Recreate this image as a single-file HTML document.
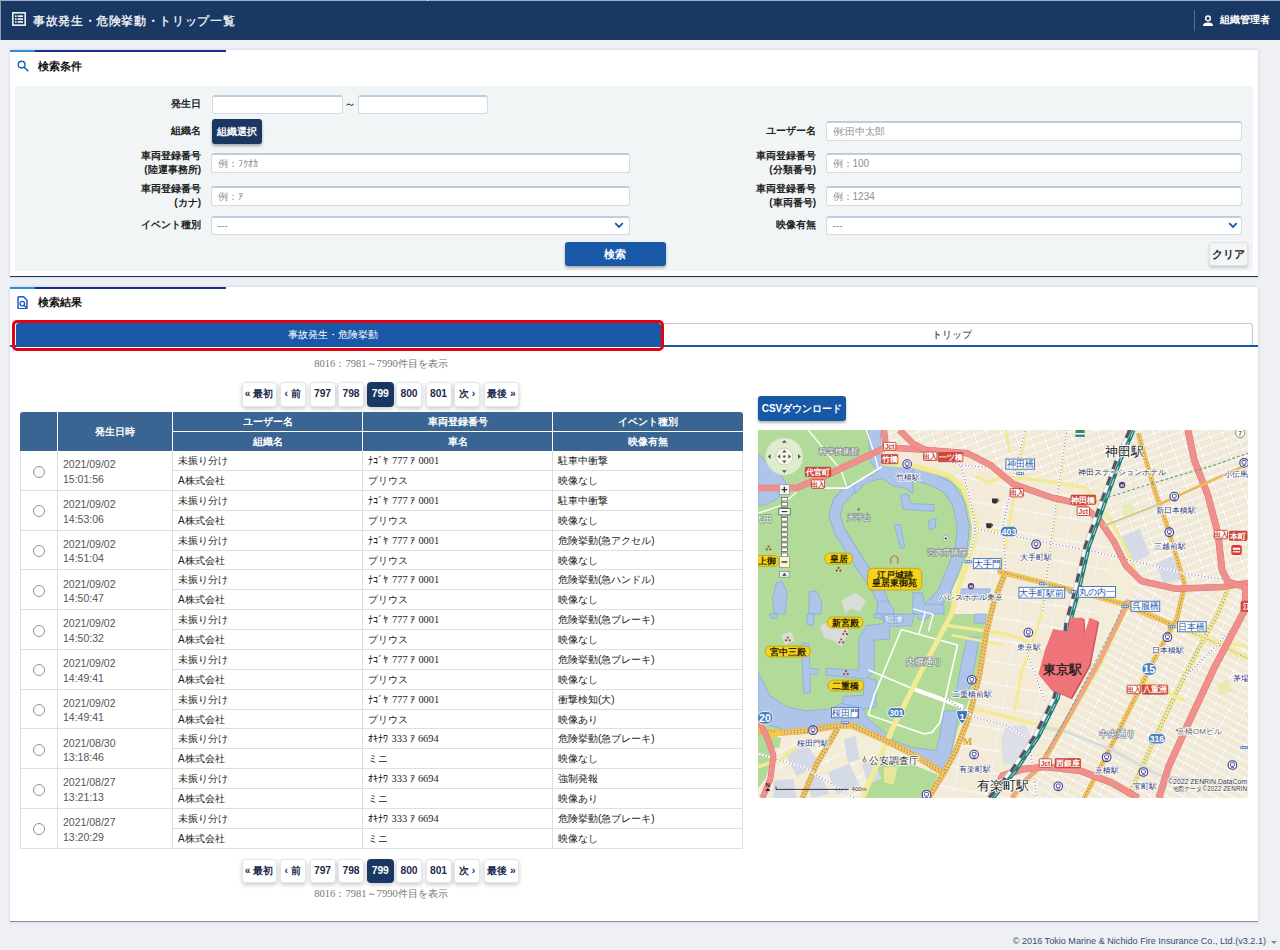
<!DOCTYPE html>
<html lang="ja"><head>
<meta charset="utf-8">
<title>事故発生・危険挙動・トリップ一覧</title>
<style>
*{box-sizing:border-box;margin:0;padding:0}
html,body{width:1280px;height:950px;overflow:hidden}
body{position:relative;background:#eef0f4;font-family:"Liberation Sans",sans-serif;font-size:10px;color:#222}
.abs{position:absolute}
.j{display:inline-block;text-align:justify;text-align-last:justify;text-justify:inter-character;white-space:nowrap;vertical-align:top}
.k{display:inline-block;overflow:hidden;white-space:nowrap;vertical-align:top;font-family:"Liberation Sans",sans-serif}
#hdr{left:0;top:0;width:1280px;height:40px;background:#1a3864;border-top:1px solid #9dabc8;border-left:1px solid #8e9ab3}
#hdr .ttl{left:32px;top:10.5px;color:#fff;font-size:12.2px;line-height:18px;white-space:nowrap;-webkit-text-stroke:.25px #fff}
#hdr .usr{left:1219px;top:9.5px;color:#fff;font-size:10px;font-weight:bold;line-height:18px;white-space:nowrap}
#hdr .sep{left:1193px;top:9px;width:1px;height:21px;background:#5d6894}
.panel{background:#fff;left:10px;width:1248px;box-shadow:0 0 3px rgba(120,140,170,.35)}
.panel .tb1{left:0;top:0;width:25px;height:2px;background:#2a8fd0}
.panel .tb2{left:25px;top:0;width:191px;height:2px;background:#17308a}
.ph{font-size:11.2px;font-weight:bold;color:#111;left:28px;white-space:nowrap;line-height:16px}
#p1{top:50px;height:227px;border-bottom:1px solid #1a3762}
#p2{top:287px;height:635px;border-bottom:1px solid #8392aa}
#form{left:5px;top:36px;width:1238px;height:185px;background:#f1f5f6}
.lbl{font-weight:bold;font-size:10px;line-height:14px;text-align:right;width:120px;color:#222;white-space:nowrap}
.inp{background:#fff;border:1px solid #d5dbe3;border-top:2px solid #bfcbe0;border-radius:3px;height:20px;font-size:10px;line-height:17.5px;color:#8f8f8f;padding-left:5.5px;white-space:nowrap;overflow:hidden}
.btn{border-radius:3px;color:#fff;font-weight:bold;font-size:10px;text-align:center;white-space:nowrap;box-shadow:0 2px 3px rgba(0,0,0,.3)}
.tabblue{left:15.5px;top:323px;width:645px;height:24px;background:#1858a6;border-radius:3px 3px 0 0;color:#fff;font-size:10px;line-height:23px;text-align:center;padding-right:11px}
.tab2{left:663px;top:323px;width:590px;height:22px;border:1px solid #c4caca;border-bottom:none;border-radius:3px 3px 0 0;font-size:10px;line-height:22px;text-align:center;color:#222;background:#fff;padding-right:12px}
.tabline{left:10px;top:345px;width:1248px;height:2px;background:#1858a6}
.redbox{left:12px;top:320px;width:651.5px;height:31px;border:3px solid #e60012;border-radius:5px}
.cnt{left:241px;width:280px;text-align:center;font-family:"Liberation Serif",serif;font-size:10.6px;color:#777;line-height:14px;white-space:nowrap}
.cnt b{font-weight:normal;font-family:"Liberation Sans",sans-serif;font-size:10.2px}
.pg{height:24.5px;line-height:22.5px;background:#fff;border:1px solid #e3e6e8;border-radius:3.5px;box-shadow:0 2px 4px rgba(0,0,0,.2);font-size:10.3px;font-weight:bold;color:#1e2c4e;text-align:center;white-space:nowrap}
.pg.on{background:#1a3762;border-color:#1a3762;color:#fff}
#tbl{left:20px;top:412px;width:723px;height:437px}
.th{background:#3a6592;color:#fff;font-weight:bold;font-size:10px;text-align:center;line-height:19px;white-space:nowrap}
.td{font-size:10px;line-height:19px;color:#222;white-space:nowrap;padding-left:5px;border-right:1px solid #d9e0e0;border-bottom:1px solid #d9e0e0;background:#fff;overflow:hidden}
.vn{font-family:"Liberation Serif",serif;font-size:10.4px}
.dt{color:#555;font-size:10.5px;line-height:14.4px;padding-top:6.4px}
.rad{width:12px;height:12px;border:1px solid #8c9499;border-radius:50%;background:#fff;left:12px;top:14.6px}
</style>
</head>
<body>
<div id="hdr" class="abs">
  <svg class="abs" style="left:11px;top:11px" width="14" height="14" viewBox="0 0 15 15"><rect x="0.9" y="0.9" width="13.2" height="13.2" fill="none" stroke="#fff" stroke-width="1.6"/><g fill="#fff"><rect x="3.2" y="3.6" width="1.7" height="1.7"/><rect x="6" y="3.6" width="5.8" height="1.7"/><rect x="3.2" y="6.7" width="1.7" height="1.7"/><rect x="6" y="6.7" width="5.8" height="1.7"/><rect x="3.2" y="9.8" width="1.7" height="1.7"/><rect x="6" y="9.8" width="5.8" height="1.7"/></g></svg>
  <div class="abs ttl"><span class="j" style="width: 201.5px;">事故発生・危険挙動・トリップ一覧</span></div>
  <div class="abs sep"></div><div class="abs" style="left:426px;top:-1px;width:1.4px;height:1px;background:#fff"></div>
  <svg class="abs" style="left:1201px;top:14px" width="12" height="12" viewBox="0 0 12 12"><circle cx="6" cy="3.4" r="2.3" fill="none" stroke="#fff" stroke-width="1.5"/><path d="M0.8 11 C1.2 8.2 3.5 7.6 6 7.6 C8.5 7.6 10.8 8.2 11.2 11 Z" fill="#fff"/></svg>
  <div class="abs usr"><span class="j" style="width: 50px;">組織管理者</span></div>
</div>

<div id="p1" class="abs panel">
  <div class="abs tb1"></div><div class="abs tb2"></div>
  <svg class="abs" style="left:7px;top:10px" width="12" height="12" viewBox="0 0 12 12"><circle cx="4.6" cy="4.6" r="3.4" fill="none" stroke="#1a5fb0" stroke-width="1.4"/><path d="M7.2 7.2 L10.8 10.8" stroke="#1a5fb0" stroke-width="1.6" stroke-linecap="round"/></svg>
  <div class="abs ph" style="top:8px"><span class="j" style="width: 44px;">検索条件</span></div>
  <div id="form" class="abs"></div>
</div>

<div id="fl" class="abs" style="left:0;top:0">
  <div class="abs lbl" style="left:81px;top:97px"><span class="j" style="width: 30px;">発生日</span></div>
  <div class="abs inp" style="left:211.5px;top:94.5px;width:131.5px;height:19px"></div>
  <div class="abs" style="left:344px;top:97px;font-size:12px;line-height:14px;color:#222">～</div>
  <div class="abs inp" style="left:357.5px;top:94.5px;width:130.5px;height:19px"></div>
  <div class="abs lbl" style="left:81px;top:124px"><span class="j" style="width: 30px;">組織名</span></div>
  <div class="abs btn" style="left:212px;top:119px;width:50px;height:25px;line-height:25px;background:#1a3762"><span class="j" style="width: 40px;">組織選択</span></div>
  <div class="abs lbl" style="left:81px;top:149px"><span class="j" style="width: 60px;">車両登録番号</span><br><span class="j" style="width: 56.7px;">(陸運事務所)</span></div>
  <div class="abs inp" style="left:211px;top:152.5px;width:419px"><span class="j" style="width: 20px;">例：</span><span class="k" style="width:21px">ﾌｸｵｶ</span></div>
  <div class="abs lbl" style="left:81px;top:182px"><span class="j" style="width: 60px;">車両登録番号</span><br><span class="j" style="width: 26.7px;">(カナ)</span></div>
  <div class="abs inp" style="left:211px;top:185.5px;width:419px"><span class="j" style="width: 20px;">例：</span><span class="k" style="width:5px">ｱ</span></div>
  <div class="abs lbl" style="left:81px;top:218px"><span class="j" style="width: 60px;">イベント種別</span></div>
  <div class="abs inp sel" style="left:211px;top:215.5px;width:419px;height:19px;line-height:16px">---</div>
  <svg class="abs" style="left:614px;top:222px" width="10" height="7" viewBox="0 0 10 7"><path d="M1.2 1.2 L5 5 L8.8 1.2" fill="none" stroke="#1858a6" stroke-width="1.8"/></svg>
  <div class="abs lbl" style="left:696px;top:124px"><span class="j" style="width: 50px;">ユーザー名</span></div>
  <div class="abs inp" style="left:826px;top:121.4px;width:416px"><span class="j" style="width: 52.8px;">例:田中太郎</span></div>
  <div class="abs lbl" style="left:696px;top:149px"><span class="j" style="width: 60px;">車両登録番号</span><br><span class="j" style="width: 46.7px;">(分類番号)</span></div>
  <div class="abs inp" style="left:826px;top:152.5px;width:416px"><span class="j" style="width: 36.7px;">例：100</span></div>
  <div class="abs lbl" style="left:696px;top:182px"><span class="j" style="width: 60px;">車両登録番号</span><br><span class="j" style="width: 46.7px;">(車両番号)</span></div>
  <div class="abs inp" style="left:826px;top:185.5px;width:416px"><span class="j" style="width: 42.3px;">例：1234</span></div>
  <div class="abs lbl" style="left:696px;top:218px"><span class="j" style="width: 40px;">映像有無</span></div>
  <div class="abs inp sel" style="left:826px;top:215.5px;width:416px;height:19px;line-height:16px">---</div>
  <svg class="abs" style="left:1228px;top:222px" width="10" height="7" viewBox="0 0 10 7"><path d="M1.2 1.2 L5 5 L8.8 1.2" fill="none" stroke="#1858a6" stroke-width="1.8"/></svg>
  <div class="abs btn" style="left:564.5px;top:241.6px;width:101px;height:24.4px;line-height:24px;background:#1858a6;font-size:10.5px"><span class="j" style="width: 22px;">検索</span></div>
  <div class="abs btn" style="left:1209px;top:242px;width:39px;height:24px;line-height:22px;background:#f3f5f6;color:#222;border:1px solid #dfe2e5;font-size:10.5px;box-shadow:0 2px 3px rgba(0,0,0,.16)"><span class="j" style="width: 33px;">クリア</span></div>
</div>

<div id="p2" class="abs panel">
  <div class="abs tb1"></div><div class="abs tb2"></div>
  <div class="abs ph" style="top:7px"><span class="j" style="width: 44px;">検索結果</span></div>
</div>

<div id="rl" class="abs" style="left:0;top:0">
  <svg class="abs" style="left:17.4px;top:295.6px" width="11" height="13.6" viewBox="0 0 11 13.6"><path d="M1 1.7 Q1 .8 1.9 .8 H6.6 L10 4.2 V11.9 Q10 12.8 9.1 12.8 H1.9 Q1 12.8 1 11.9 Z" fill="#fff" stroke="#1c5cc0" stroke-width="1.5" stroke-linejoin="round"/><circle cx="5.3" cy="7.6" r="2.3" fill="none" stroke="#1c5cc0" stroke-width="1.3"/><path d="M7 9.3 L9.4 11.8" stroke="#1c5cc0" stroke-width="1.4"/></svg>
  <div class="abs tabline"></div>
  <div class="abs tabblue"><span class="j" style="width: 90px;">事故発生・危険挙動</span></div>
  <div class="abs tab2"><span class="j" style="width: 40px;">トリップ</span></div>
  <div class="abs redbox"></div>
  <div class="abs cnt" style="top:357px">8016<b>：</b>7981<b>～</b>7990<b><span class="j" style="width: 50px;">件目を表示</span></b></div>
  <div class="abs cnt" style="top:887px">8016<b>：</b>7981<b>～</b>7990<b><span class="j" style="width: 50px;">件目を表示</span></b></div>
  <div class="abs pg" style="left:241.5px;top:382px;width:35px"><span class="j" style="width: 28.6px;">« 最初</span></div>
  <div class="abs pg" style="left:279.5px;top:382px;width:26.5px"><span class="j" style="width: 16.3px;">‹ 前</span></div>
  <div class="abs pg" style="left:309.5px;top:382px;width:26px">797</div>
  <div class="abs pg" style="left:338px;top:382px;width:26px">798</div>
  <div class="abs pg on" style="left:366.5px;top:382px;width:27.5px">799</div>
  <div class="abs pg" style="left:396px;top:382px;width:26px">800</div>
  <div class="abs pg" style="left:425.5px;top:382px;width:26px">801</div>
  <div class="abs pg" style="left:454px;top:382px;width:26px"><span class="j" style="width: 16.3px;">次 ›</span></div>
  <div class="abs pg" style="left:484px;top:382px;width:35px"><span class="j" style="width: 28.6px;">最後 »</span></div>
  <div class="abs pg" style="left:241.5px;top:858.5px;width:35px"><span class="j" style="width: 28.6px;">« 最初</span></div>
  <div class="abs pg" style="left:279.5px;top:858.5px;width:26.5px"><span class="j" style="width: 16.3px;">‹ 前</span></div>
  <div class="abs pg" style="left:309.5px;top:858.5px;width:26px">797</div>
  <div class="abs pg" style="left:338px;top:858.5px;width:26px">798</div>
  <div class="abs pg on" style="left:366.5px;top:858.5px;width:27.5px">799</div>
  <div class="abs pg" style="left:396px;top:858.5px;width:26px">800</div>
  <div class="abs pg" style="left:425.5px;top:858.5px;width:26px">801</div>
  <div class="abs pg" style="left:454px;top:858.5px;width:26px"><span class="j" style="width: 16.3px;">次 ›</span></div>
  <div class="abs pg" style="left:484px;top:858.5px;width:35px"><span class="j" style="width: 28.6px;">最後 »</span></div>
  <div id="tbl" class="abs">
    <div class="abs th" style="left:0;top:0;width:37px;height:39px;border-radius:3px 0 0 0"></div>
    <div class="abs th" style="left:38px;top:0;width:114px;height:39px;line-height:39px"><span class="j" style="width: 40px;">発生日時</span></div>
    <div class="abs th" style="left:153px;top:0;width:189px;height:19px"><span class="j" style="width: 50px;">ユーザー名</span></div>
    <div class="abs th" style="left:153px;top:20px;width:189px;height:19px"><span class="j" style="width: 30px;">組織名</span></div>
    <div class="abs th" style="left:343px;top:0;width:189px;height:19px"><span class="j" style="width: 60px;">車両登録番号</span></div>
    <div class="abs th" style="left:343px;top:20px;width:189px;height:19px"><span class="j" style="width: 20px;">車名</span></div>
    <div class="abs th" style="left:533px;top:0;width:190px;height:19px;border-radius:0 3px 0 0"><span class="j" style="width: 60px;">イベント種別</span></div>
    <div class="abs th" style="left:533px;top:20px;width:190px;height:19px"><span class="j" style="width: 40px;">映像有無</span></div>
    <div class="abs" style="left:0;top:39.0px;width:723px;height:39.75px">
      <div class="abs td" style="left:0;top:0;width:38px;height:39.75px;border-left:1px solid #d9e0e0"><div class="abs rad"></div></div>
      <div class="abs td dt" style="left:38px;top:0;width:115px;height:39.75px">2021/09/02<br>15:01:56</div>
      <div class="abs td" style="left:153px;top:0;width:190px;height:20px"><span class="j" style="width: 50px;">未振り分け</span></div>
      <div class="abs td" style="left:153px;top:20px;width:190px;height:19.75px"><span class="j" style="width: 46.7px;">A株式会社</span></div>
      <div class="abs td vn" style="left:343px;top:0;width:190px;height:20px"><span class="k" style="width:21.5px">ﾅｺﾞﾔ</span> 777 <span class="k" style="width:5.5px">ｱ</span> 0001</div>
      <div class="abs td" style="left:343px;top:20px;width:190px;height:19.75px"><span class="j" style="width: 40px;">プリウス</span></div>
      <div class="abs td" style="left:533px;top:0;width:190px;height:20px"><span class="j" style="width: 50px;">駐車中衝撃</span></div>
      <div class="abs td" style="left:533px;top:20px;width:190px;height:19.75px"><span class="j" style="width: 40px;">映像なし</span></div>
    </div>
    <div class="abs" style="left:0;top:78.75px;width:723px;height:39.75px">
      <div class="abs td" style="left:0;top:0;width:38px;height:39.75px;border-left:1px solid #d9e0e0"><div class="abs rad"></div></div>
      <div class="abs td dt" style="left:38px;top:0;width:115px;height:39.75px">2021/09/02<br>14:53:06</div>
      <div class="abs td" style="left:153px;top:0;width:190px;height:20px"><span class="j" style="width: 50px;">未振り分け</span></div>
      <div class="abs td" style="left:153px;top:20px;width:190px;height:19.75px"><span class="j" style="width: 46.7px;">A株式会社</span></div>
      <div class="abs td vn" style="left:343px;top:0;width:190px;height:20px"><span class="k" style="width:21.5px">ﾅｺﾞﾔ</span> 777 <span class="k" style="width:5.5px">ｱ</span> 0001</div>
      <div class="abs td" style="left:343px;top:20px;width:190px;height:19.75px"><span class="j" style="width: 40px;">プリウス</span></div>
      <div class="abs td" style="left:533px;top:0;width:190px;height:20px"><span class="j" style="width: 50px;">駐車中衝撃</span></div>
      <div class="abs td" style="left:533px;top:20px;width:190px;height:19.75px"><span class="j" style="width: 40px;">映像なし</span></div>
    </div>
    <div class="abs" style="left:0;top:118.5px;width:723px;height:39.75px">
      <div class="abs td" style="left:0;top:0;width:38px;height:39.75px;border-left:1px solid #d9e0e0"><div class="abs rad"></div></div>
      <div class="abs td dt" style="left:38px;top:0;width:115px;height:39.75px">2021/09/02<br>14:51:04</div>
      <div class="abs td" style="left:153px;top:0;width:190px;height:20px"><span class="j" style="width: 50px;">未振り分け</span></div>
      <div class="abs td" style="left:153px;top:20px;width:190px;height:19.75px"><span class="j" style="width: 46.7px;">A株式会社</span></div>
      <div class="abs td vn" style="left:343px;top:0;width:190px;height:20px"><span class="k" style="width:21.5px">ﾅｺﾞﾔ</span> 777 <span class="k" style="width:5.5px">ｱ</span> 0001</div>
      <div class="abs td" style="left:343px;top:20px;width:190px;height:19.75px"><span class="j" style="width: 40px;">プリウス</span></div>
      <div class="abs td" style="left:533px;top:0;width:190px;height:20px"><span class="j" style="width: 96.7px;">危険挙動(急アクセル)</span></div>
      <div class="abs td" style="left:533px;top:20px;width:190px;height:19.75px"><span class="j" style="width: 40px;">映像なし</span></div>
    </div>
    <div class="abs" style="left:0;top:158.25px;width:723px;height:39.75px">
      <div class="abs td" style="left:0;top:0;width:38px;height:39.75px;border-left:1px solid #d9e0e0"><div class="abs rad"></div></div>
      <div class="abs td dt" style="left:38px;top:0;width:115px;height:39.75px">2021/09/02<br>14:50:47</div>
      <div class="abs td" style="left:153px;top:0;width:190px;height:20px"><span class="j" style="width: 50px;">未振り分け</span></div>
      <div class="abs td" style="left:153px;top:20px;width:190px;height:19.75px"><span class="j" style="width: 46.7px;">A株式会社</span></div>
      <div class="abs td vn" style="left:343px;top:0;width:190px;height:20px"><span class="k" style="width:21.5px">ﾅｺﾞﾔ</span> 777 <span class="k" style="width:5.5px">ｱ</span> 0001</div>
      <div class="abs td" style="left:343px;top:20px;width:190px;height:19.75px"><span class="j" style="width: 40px;">プリウス</span></div>
      <div class="abs td" style="left:533px;top:0;width:190px;height:20px"><span class="j" style="width: 96.7px;">危険挙動(急ハンドル)</span></div>
      <div class="abs td" style="left:533px;top:20px;width:190px;height:19.75px"><span class="j" style="width: 40px;">映像なし</span></div>
    </div>
    <div class="abs" style="left:0;top:198.0px;width:723px;height:39.75px">
      <div class="abs td" style="left:0;top:0;width:38px;height:39.75px;border-left:1px solid #d9e0e0"><div class="abs rad"></div></div>
      <div class="abs td dt" style="left:38px;top:0;width:115px;height:39.75px">2021/09/02<br>14:50:32</div>
      <div class="abs td" style="left:153px;top:0;width:190px;height:20px"><span class="j" style="width: 50px;">未振り分け</span></div>
      <div class="abs td" style="left:153px;top:20px;width:190px;height:19.75px"><span class="j" style="width: 46.7px;">A株式会社</span></div>
      <div class="abs td vn" style="left:343px;top:0;width:190px;height:20px"><span class="k" style="width:21.5px">ﾅｺﾞﾔ</span> 777 <span class="k" style="width:5.5px">ｱ</span> 0001</div>
      <div class="abs td" style="left:343px;top:20px;width:190px;height:19.75px"><span class="j" style="width: 40px;">プリウス</span></div>
      <div class="abs td" style="left:533px;top:0;width:190px;height:20px"><span class="j" style="width: 96.7px;">危険挙動(急ブレーキ)</span></div>
      <div class="abs td" style="left:533px;top:20px;width:190px;height:19.75px"><span class="j" style="width: 40px;">映像なし</span></div>
    </div>
    <div class="abs" style="left:0;top:237.75px;width:723px;height:39.75px">
      <div class="abs td" style="left:0;top:0;width:38px;height:39.75px;border-left:1px solid #d9e0e0"><div class="abs rad"></div></div>
      <div class="abs td dt" style="left:38px;top:0;width:115px;height:39.75px">2021/09/02<br>14:49:41</div>
      <div class="abs td" style="left:153px;top:0;width:190px;height:20px"><span class="j" style="width: 50px;">未振り分け</span></div>
      <div class="abs td" style="left:153px;top:20px;width:190px;height:19.75px"><span class="j" style="width: 46.7px;">A株式会社</span></div>
      <div class="abs td vn" style="left:343px;top:0;width:190px;height:20px"><span class="k" style="width:21.5px">ﾅｺﾞﾔ</span> 777 <span class="k" style="width:5.5px">ｱ</span> 0001</div>
      <div class="abs td" style="left:343px;top:20px;width:190px;height:19.75px"><span class="j" style="width: 40px;">プリウス</span></div>
      <div class="abs td" style="left:533px;top:0;width:190px;height:20px"><span class="j" style="width: 96.7px;">危険挙動(急ブレーキ)</span></div>
      <div class="abs td" style="left:533px;top:20px;width:190px;height:19.75px"><span class="j" style="width: 40px;">映像なし</span></div>
    </div>
    <div class="abs" style="left:0;top:277.5px;width:723px;height:39.75px">
      <div class="abs td" style="left:0;top:0;width:38px;height:39.75px;border-left:1px solid #d9e0e0"><div class="abs rad"></div></div>
      <div class="abs td dt" style="left:38px;top:0;width:115px;height:39.75px">2021/09/02<br>14:49:41</div>
      <div class="abs td" style="left:153px;top:0;width:190px;height:20px"><span class="j" style="width: 50px;">未振り分け</span></div>
      <div class="abs td" style="left:153px;top:20px;width:190px;height:19.75px"><span class="j" style="width: 46.7px;">A株式会社</span></div>
      <div class="abs td vn" style="left:343px;top:0;width:190px;height:20px"><span class="k" style="width:21.5px">ﾅｺﾞﾔ</span> 777 <span class="k" style="width:5.5px">ｱ</span> 0001</div>
      <div class="abs td" style="left:343px;top:20px;width:190px;height:19.75px"><span class="j" style="width: 40px;">プリウス</span></div>
      <div class="abs td" style="left:533px;top:0;width:190px;height:20px"><span class="j" style="width: 56.7px;">衝撃検知(大)</span></div>
      <div class="abs td" style="left:533px;top:20px;width:190px;height:19.75px"><span class="j" style="width: 40px;">映像あり</span></div>
    </div>
    <div class="abs" style="left:0;top:317.25px;width:723px;height:39.75px">
      <div class="abs td" style="left:0;top:0;width:38px;height:39.75px;border-left:1px solid #d9e0e0"><div class="abs rad"></div></div>
      <div class="abs td dt" style="left:38px;top:0;width:115px;height:39.75px">2021/08/30<br>13:18:46</div>
      <div class="abs td" style="left:153px;top:0;width:190px;height:20px"><span class="j" style="width: 50px;">未振り分け</span></div>
      <div class="abs td" style="left:153px;top:20px;width:190px;height:19.75px"><span class="j" style="width: 46.7px;">A株式会社</span></div>
      <div class="abs td vn" style="left:343px;top:0;width:190px;height:20px"><span class="k" style="width:21px">ｵｷﾅﾜ</span> 333 <span class="k" style="width:5.5px">ｱ</span> 6694</div>
      <div class="abs td" style="left:343px;top:20px;width:190px;height:19.75px"><span class="j" style="width: 20px;">ミニ</span></div>
      <div class="abs td" style="left:533px;top:0;width:190px;height:20px"><span class="j" style="width: 96.7px;">危険挙動(急ブレーキ)</span></div>
      <div class="abs td" style="left:533px;top:20px;width:190px;height:19.75px"><span class="j" style="width: 40px;">映像なし</span></div>
    </div>
    <div class="abs" style="left:0;top:357.0px;width:723px;height:39.75px">
      <div class="abs td" style="left:0;top:0;width:38px;height:39.75px;border-left:1px solid #d9e0e0"><div class="abs rad"></div></div>
      <div class="abs td dt" style="left:38px;top:0;width:115px;height:39.75px">2021/08/27<br>13:21:13</div>
      <div class="abs td" style="left:153px;top:0;width:190px;height:20px"><span class="j" style="width: 50px;">未振り分け</span></div>
      <div class="abs td" style="left:153px;top:20px;width:190px;height:19.75px"><span class="j" style="width: 46.7px;">A株式会社</span></div>
      <div class="abs td vn" style="left:343px;top:0;width:190px;height:20px"><span class="k" style="width:21px">ｵｷﾅﾜ</span> 333 <span class="k" style="width:5.5px">ｱ</span> 6694</div>
      <div class="abs td" style="left:343px;top:20px;width:190px;height:19.75px"><span class="j" style="width: 20px;">ミニ</span></div>
      <div class="abs td" style="left:533px;top:0;width:190px;height:20px"><span class="j" style="width: 40px;">強制発報</span></div>
      <div class="abs td" style="left:533px;top:20px;width:190px;height:19.75px"><span class="j" style="width: 40px;">映像あり</span></div>
    </div>
    <div class="abs" style="left:0;top:396.75px;width:723px;height:39.75px">
      <div class="abs td" style="left:0;top:0;width:38px;height:39.75px;border-left:1px solid #d9e0e0"><div class="abs rad"></div></div>
      <div class="abs td dt" style="left:38px;top:0;width:115px;height:39.75px">2021/08/27<br>13:20:29</div>
      <div class="abs td" style="left:153px;top:0;width:190px;height:20px"><span class="j" style="width: 50px;">未振り分け</span></div>
      <div class="abs td" style="left:153px;top:20px;width:190px;height:19.75px"><span class="j" style="width: 46.7px;">A株式会社</span></div>
      <div class="abs td vn" style="left:343px;top:0;width:190px;height:20px"><span class="k" style="width:21px">ｵｷﾅﾜ</span> 333 <span class="k" style="width:5.5px">ｱ</span> 6694</div>
      <div class="abs td" style="left:343px;top:20px;width:190px;height:19.75px"><span class="j" style="width: 20px;">ミニ</span></div>
      <div class="abs td" style="left:533px;top:0;width:190px;height:20px"><span class="j" style="width: 96.7px;">危険挙動(急ブレーキ)</span></div>
      <div class="abs td" style="left:533px;top:20px;width:190px;height:19.75px"><span class="j" style="width: 40px;">映像なし</span></div>
    </div>
  </div>
  <div class="abs btn" style="left:758px;top:396px;width:88px;height:25px;line-height:25px;background:#1858a6;font-size:10px"><span class="j" style="width: 80.6px;">CSVダウンロード</span></div>
  <div id="map" class="abs" style="left:758px;top:430px;width:490px;height:368px;background:#f4eedd;overflow:hidden"><svg width="490" height="368" viewBox="0 0 490 368" style="display:block;font-family:'Liberation Sans',sans-serif">
<defs>
<pattern id="g1" width="13" height="7.5" patternUnits="userSpaceOnUse" patternTransform="rotate(-20)"><rect width="13" height="7.5" fill="#f2ead6"/><path d="M0 3.75H13.0M6.5 0V7.5" stroke="#d8d1ba" stroke-width="2.05"/><path d="M0 3.75H13.0M6.5 0V7.5" stroke="#fff" stroke-width="1.25"/></pattern>
<pattern id="g2" width="15" height="7.5" patternUnits="userSpaceOnUse" patternTransform="rotate(28)"><rect width="15" height="7.5" fill="#f2ead6"/><path d="M0 3.75H15.0M7.5 0V7.5" stroke="#d8d1ba" stroke-width="2.05"/><path d="M0 3.75H15.0M7.5 0V7.5" stroke="#fff" stroke-width="1.25"/></pattern>
<pattern id="g3" width="34" height="22" patternUnits="userSpaceOnUse" patternTransform="rotate(10)"><rect width="34" height="22" fill="#f3ebd7"/><path d="M0 11.0H34.0M17.0 0V22.0" stroke="#d8d1ba" stroke-width="2.1"/><path d="M0 11.0H34.0M17.0 0V22.0" stroke="#fff" stroke-width="1.3"/></pattern>
<pattern id="g4" width="22" height="14" patternUnits="userSpaceOnUse" patternTransform="rotate(-25)"><rect width="22" height="14" fill="#f4ecd7"/><path d="M0 7.0H22.0M11.0 0V14.0" stroke="#d8d1ba" stroke-width="2.1"/><path d="M0 7.0H22.0M11.0 0V14.0" stroke="#fff" stroke-width="1.3"/></pattern>
</defs>
<rect width="490" height="368" fill="#f4edd9"/>
<path d="M128 0 L380 0 L300 368 L170 368 L230 180 L215 90 L195 45 L128 30Z" fill="url(#g3)"/>
<path d="M372 0 L490 0 L490 160 L420 168 L375 150 L345 95 L355 40Z" fill="url(#g1)"/>
<path d="M128 0 L372 0 L355 40 L335 60 L250 45 L205 22 L160 18 L128 18Z" fill="url(#g1)"/>
<path d="M375 150 L420 168 L490 160 L490 368 L254 368 L282 337 L311 287 L342 230 L371 170Z" fill="url(#g2)"/>
<path d="M0 300 L190 340 L170 368 L0 368Z" fill="url(#g4)"/>
<path d="M0.0 0.0 L122.0 0.0 L124.0 32.9 L135.6 37.8 L154.9 35.8 L174.3 40.7 L190.8 46.5 L203.4 58.1 L210.1 77.5 L214.0 96.8 L213.1 108.5 L210.1 124.0 L205.3 133.6 L201.4 145.3 L193.7 160.8 L193.7 184.0 L195.6 184.0 L226.6 184.0 L226.6 195.6 L220.8 232.4 L213.1 265.3 L205.3 284.7 L199.5 300.2 L191.7 331.2 L185.9 338.9 L154.9 323.5 L124.0 308.0 L93.0 294.4 L73.6 296.3 L48.4 300.2 L19.4 302.1 L0.0 300.2 Z" fill="#b2da99"/>
<path d="M120.1 333.1 L135.6 327.3 L160.8 337.0 L180.1 344.8 L174.3 358.3 L168.5 368.0 L104.6 368.0 L112.3 348.6 Z" fill="#b2da99"/>
<path d="M125.9 337.0 L139.5 337.0 L135.6 354.4 L125.9 352.5 Z" fill="#e9e69a"/>
<path d="M0.0 300.2 L11.6 308.0 L15.5 323.5 L7.7 348.6 L0.0 358.3 Z" fill="#b2da99"/>
<path d="M0.0 302.1 L23.2 308.0 L21.3 317.6 L0.0 319.6 Z" fill="#b2da99"/>
<path d="M0.0 23.2 L7.7 32.0 L21.3 43.6 L28.1 52.3 L26.1 62.0 L18.4 69.7 L7.7 74.6 L0.0 75.5 Z" fill="#aec4e9" stroke="#7ba4dd" stroke-width=".6" stroke-linejoin="round"/>
<path d="M116.2 0.0 L118.1 29.1 L127.8 41.6 L153.0 43.0 L174.3 49.4 L190.8 58.1 L200.5 73.6 L205.3 96.8 L203.4 116.2 L197.6 133.6 L191.7 147.2 L185.9 162.7 L175.3 174.3 L164.6 184.0" fill="none" stroke="#7ba4dd" stroke-width="12.6" stroke-linejoin="round" stroke-linecap="round"/><path d="M116.2 0.0 L118.1 29.1 L127.8 41.6 L153.0 43.0 L174.3 49.4 L190.8 58.1 L200.5 73.6 L205.3 96.8 L203.4 116.2 L197.6 133.6 L191.7 147.2 L185.9 162.7 L175.3 174.3 L164.6 184.0" fill="none" stroke="#aec4e9" stroke-width="11.5" stroke-linejoin="round" stroke-linecap="round"/>
<path d="M93.0 58.1 L104.6 48.4 L116.2 44.5 L125.9 34.9 L154.9 36.8 L154.9 63.9 L147.2 58.1 L135.6 56.2 L124.0 48.4 L108.5 52.3 L96.8 63.9 Z" fill="#aec4e9" stroke="#7ba4dd" stroke-width=".6" stroke-linejoin="round"/>
<path d="M91.0 60.0 L80.4 71.7 L76.5 85.2 L81.3 100.7 L91.0 116.2 L100.7 131.7 L111.4 147.2 L120.1 160.8 L125.9 174.3 L124.0 184.0" fill="none" stroke="#7ba4dd" stroke-width="11.6" stroke-linejoin="round" stroke-linecap="round"/><path d="M91.0 60.0 L80.4 71.7 L76.5 85.2 L81.3 100.7 L91.0 116.2 L100.7 131.7 L111.4 147.2 L120.1 160.8 L125.9 174.3 L124.0 184.0" fill="none" stroke="#aec4e9" stroke-width="10.5" stroke-linejoin="round" stroke-linecap="round"/>
<path d="M142.4 64.9 L150.1 63.9 L153.0 73.6 L176.3 74.6 L175.3 81.3 L145.3 79.4 Z" fill="#aec4e9" stroke="#7ba4dd" stroke-width=".6" stroke-linejoin="round"/>
<path d="M136.5 94.9 L142.4 94.5 L146.8 117.2 L142.4 118.5 Z" fill="#aec4e9" stroke="#7ba4dd" stroke-width=".6" stroke-linejoin="round"/>
<path d="M170.4 91.0 L178.2 88.1 L177.2 97.8 L171.4 99.7 Z" fill="#aec4e9" stroke="#7ba4dd" stroke-width=".6" stroke-linejoin="round"/>
<path d="M18.4 153.0 L24.2 151.1 L29.1 162.7 L27.1 184.0 L16.5 184.0 L14.5 168.5 Z" fill="#aec4e9" stroke="#7ba4dd" stroke-width=".6" stroke-linejoin="round"/>
<path d="M51.3 161.7 L58.1 160.8 L63.9 172.4 L62.9 184.0 L50.7 184.0 Z" fill="#aec4e9" stroke="#7ba4dd" stroke-width=".6" stroke-linejoin="round"/>
<path d="M120.1 172.4 L127.8 170.4 L135.6 178.2 L135.6 184.0 L118.1 184.0 Z" fill="#aec4e9" stroke="#7ba4dd" stroke-width=".6" stroke-linejoin="round"/>
<path d="M154.9 162.7 L164.6 162.7 L166.6 174.3 L185.9 174.3 L185.9 184.0 L154.9 184.0 Z" fill="#aec4e9" stroke="#7ba4dd" stroke-width=".6" stroke-linejoin="round"/>
<path d="M201.4 158.8 L232.4 158.8 L230.5 169.5 L199.5 168.5 Z" fill="#aec4e9" stroke="#7ba4dd" stroke-width=".6" stroke-linejoin="round"/>
<path d="M11.6 184.0 L19.4 184.0 L18.4 188.3 L12.6 187.9 Z" fill="#aec4e9" stroke="#7ba4dd" stroke-width=".6" stroke-linejoin="round"/>
<path d="M48.4 184.0 L56.2 184.0 L55.2 195.6 L49.4 194.7 Z" fill="#aec4e9" stroke="#7ba4dd" stroke-width=".6" stroke-linejoin="round"/>
<path d="M116.2 184.0 L124.0 184.0 L124.0 187.9 L116.2 187.9 Z" fill="#aec4e9" stroke="#7ba4dd" stroke-width=".6" stroke-linejoin="round"/>
<path d="M43.6 213.1 L50.7 213.1 L51.9 238.2 L60.4 239.2 L60.0 244.4 L52.3 244.4 L52.3 262.4 L45.5 263.4 Z" fill="#aec4e9" stroke="#7ba4dd" stroke-width=".6" stroke-linejoin="round"/>
<path d="M125.9 184.0 L155.9 184.0 L154.0 195.6 L131.7 196.6 L131.7 209.2 L116.2 210.1 L116.2 242.1 L108.5 247.9 L118.1 249.9 L118.1 277.0 L108.5 278.9 L83.3 278.9 L85.2 266.3 L105.6 265.3 L105.6 248.9 L67.8 245.0 L68.2 238.2 L100.7 240.2 L100.7 209.2 L108.5 195.6 L125.9 193.7 Z" fill="#aec4e9" stroke="#7ba4dd" stroke-width=".6" stroke-linejoin="round"/>
<path d="M0.0 242.1 L11.6 265.3 L29.1 277.0 L48.4 280.8 L73.6 278.9 L83.3 273.5 L104.6 277.9 L109.4 288.6 L124.0 300.2 L133.6 309.9 L154.9 317.6 L178.2 320.5 L182.1 304.1 L185.9 280.8 L200.5 280.8 L197.6 300.2 L191.7 331.2 L185.0 338.9 L154.9 323.8 L124.0 307.0 L91.0 292.9 L58.1 298.7 L29.1 300.6 L9.7 294.8 L0.0 277.0 Z" fill="#aec4e9" stroke="#7ba4dd" stroke-width=".6" stroke-linejoin="round"/>
<path d="M209.2 207.2 L221.2 207.2 L217.3 232.4 L209.6 265.3 L197.6 265.3 L203.4 232.4 Z" fill="#aec4e9" stroke="#7ba4dd" stroke-width=".6" stroke-linejoin="round"/>
<path d="M216.9 184.0 L228.5 184.0 L227.0 193.7 L216.0 192.7 Z" fill="#aec4e9" stroke="#7ba4dd" stroke-width=".6" stroke-linejoin="round"/>
<path d="M83.3 170.4 L96.8 162.7 L108.4 170.4 L101.5 182.0 L93.0 178.2 L87.1 184.0 Z" fill="#d9dcd8"/>
<path d="M62.0 195.6 L77.5 189.8 L91.0 193.6 L89.1 205.3 L83.3 216.9 L75.5 211.1 L65.8 207.2 Z" fill="#d9dcd8"/>
<path d="M23.2 205.3 L32.9 201.4 L36.8 211.1 L27.1 214.9 Z" fill="#d9dcd8"/>
<path d="M27.1 323.4 L48.4 314.5 L62.0 333.1 L38.7 346.6 Z" fill="#d4dae6"/>
<path d="M69.7 342.8 L91.0 333.8 L101.5 354.4 L79.4 364.8 Z" fill="#d4dae6"/>
<path d="M46.5 350.5 L62.0 344.7 L71.6 364.1 L54.2 367.9 Z" fill="#d4dae6"/>
<path d="M86.0 309.8 L97.6 306.0 L101.5 329.2 L89.9 333.1 Z" fill="#d4dae6"/>
<path d="M103.8 335.0 L116.2 329.2 L123.2 348.6 L110.4 354.4 Z" fill="#d4dae6"/>
<path d="M15.5 350.5 L34.9 348.6 L38.7 367.9 L15.5 367.9 Z" fill="#d4dae6"/>
<path d="M362.9 107.3 L381.5 98.8 L391.9 124.7 L373.7 133.6 Z" fill="#d4dae6"/>
<path d="M397.8 133.6 L414.4 125.9 L423.3 149.1 L405.5 153.8 Z" fill="#d4dae6"/>
<path d="M364.1 75.5 L373.7 72.8 L376.5 83.3 L366.0 86.0 Z" fill="#e6ebb4"/>
<path d="M458.2 253.7 L470.6 249.8 L474.4 261.4 L461.7 265.3 Z" fill="#e6ebb4"/>
<path d="M247.9 296.3 L267.2 295.1 L273.0 306.0 L267.2 321.5 L253.7 335.0 L244.8 333.1 L243.2 309.8 Z" fill="#dcdfe6"/>
<path d="M143.3 199.5 L199.5 214.9 L182.0 292.4 L174.3 302.1 L166.5 304.0 L110.4 284.7 L116.2 265.3 L143.3 199.5" fill="none" stroke="#ffffff" stroke-width="1.6" stroke-linejoin="round" stroke-linecap="butt"/>
<path d="M154.9 178.9 L175.1 184.4 L170.4 201.4" fill="none" stroke="#ffffff" stroke-width="1.4" stroke-linejoin="round" stroke-linecap="butt"/>
<path d="M167.3 182.0 L160.7 204.5" fill="none" stroke="#ffffff" stroke-width="1.4" stroke-linejoin="round" stroke-linecap="butt"/>
<path d="M110.4 240.1 L154.9 258.7" fill="none" stroke="#ffffff" stroke-width="1.6" stroke-linejoin="round" stroke-linecap="butt"/>
<path d="M154.9 258.7 L205.3 276.9" fill="none" stroke="#ffffff" stroke-width="4.2" stroke-linejoin="round" stroke-linecap="butt"/>
<path d="M50.3 0.0 L83.3 40.7 L89.1 58.1" fill="none" stroke="#ffffff" stroke-width="1.3" stroke-linejoin="round" stroke-linecap="butt"/>
<path d="M108.4 0.0 L116.2 23.2 L120.1 38.7" fill="none" stroke="#ffffff" stroke-width="1.3" stroke-linejoin="round" stroke-linecap="butt"/>
<path d="M65.8 58.1 L89.1 58.1 L123.9 36.8" fill="none" stroke="#ffffff" stroke-width="1.8" stroke-linejoin="round" stroke-linecap="butt"/>
<path d="M0.0 83.3 L23.2 75.5 L38.7 62.0" fill="none" stroke="#ffffff" stroke-width="1.3" stroke-linejoin="round" stroke-linecap="butt"/>
<path d="M123.9 32.9 L154.9 35.6 L191.7 45.7 L205.3 58.1 L213.0 77.5 L218.8 96.8 L214.9 116.2 L208.0 135.6 L201.4 154.9 L193.6 184.0 L162.7 242.1 L135.6 296.3 L104.6 367.9" fill="none" stroke="#f2ea94" stroke-width="5.2" stroke-linejoin="round" stroke-linecap="butt"/>
<path d="M268.0 0.0 L259.5 46.5 L250.6 96.8 L244.8 135.6" fill="none" stroke="#f2ea94" stroke-width="2.8" stroke-linejoin="round" stroke-linecap="butt"/>
<path d="M308.7 0.0 L300.2 65.8 L290.5 131.7 L283.5 184.0 L273.0 216.9 L264.1 240.1 L256.4 280.8" fill="none" stroke="#f2ea94" stroke-width="2.8" stroke-linejoin="round" stroke-linecap="butt"/>
<path d="M244.8 46.5 L290.5 51.1 L328.0 58.1 L353.2 91.0 L368.7 120.1 L376.5 139.4" fill="none" stroke="#f2ea94" stroke-width="3.4" stroke-linejoin="round" stroke-linecap="butt"/>
<path d="M189.8 195.6 L244.8 203.3 L264.1 209.1 L283.5 222.7" fill="none" stroke="#f2ea94" stroke-width="3.4" stroke-linejoin="round" stroke-linecap="butt"/>
<path d="M193.6 205.3 L244.8 214.9" fill="none" stroke="#f2ea94" stroke-width="2.5999999999999996" stroke-linejoin="round" stroke-linecap="butt"/>
<path d="M209.1 276.9 L244.8 285.8 L302.9 300.2" fill="none" stroke="#f2ea94" stroke-width="3.4" stroke-linejoin="round" stroke-linecap="butt"/>
<path d="M216.9 98.8 L247.9 101.5" fill="none" stroke="#f2ea94" stroke-width="2.2" stroke-linejoin="round" stroke-linecap="butt"/>
<path d="M470.6 156.9 L459.7 184.0 L438.4 222.7 L415.2 269.2 L391.9 319.5 L380.3 344.7 L369.9 367.9" fill="none" stroke="#f2ea94" stroke-width="5.6" stroke-linejoin="round" stroke-linecap="butt"/>
<path d="M469.5 156.4 L458.7 183.5 L437.4 222.2 L414.1 268.7 L390.9 319.0 L379.3 344.2 L368.8 367.5" fill="none" stroke="#8d7fd0" stroke-width="1.2" stroke-linejoin="round" stroke-dasharray="0.01 3.3" stroke-linecap="round"/>
<path d="M471.6 157.3 L460.8 184.5 L439.4 223.2 L416.2 269.7 L393.0 320.0 L381.4 345.2 L370.9 368.4" fill="none" stroke="#8d7fd0" stroke-width="1.2" stroke-linejoin="round" stroke-dasharray="0.01 3.3" stroke-linecap="round"/>
<path d="M489.9 216.9 L449.3 209.1" fill="none" stroke="#f2ea94" stroke-width="3.4" stroke-linejoin="round" stroke-linecap="butt"/>
<path d="M381.5 247.9 L426.0 271.1" fill="none" stroke="#f2ea94" stroke-width="3.4" stroke-linejoin="round" stroke-linecap="butt"/>
<path d="M247.9 0.0 L251.7 23.2" fill="none" stroke="#f2ea94" stroke-width="2.4" stroke-linejoin="round" stroke-linecap="butt"/>
<path d="M216.9 46.5 L232.4 52.3 L244.8 46.5" fill="none" stroke="#f2ea94" stroke-width="3.4" stroke-linejoin="round" stroke-linecap="butt"/>
<path d="M0.0 336.9 L23.2 329.2 L46.5 309.8" fill="none" stroke="#f2ea94" stroke-width="3.4" stroke-linejoin="round" stroke-linecap="butt"/>
<path d="M247.9 141.4 L236.3 170.4 L228.5 201.4 L220.8 247.9 L211.1 286.6 L197.5 321.5 L185.9 342.8 L170.4 367.9" fill="none" stroke="#e0a94a" stroke-width="5.9" stroke-linejoin="round" stroke-linecap="butt"/>
<path d="M247.9 141.4 L236.3 170.4 L228.5 201.4 L220.8 247.9 L211.1 286.6 L197.5 321.5 L185.9 342.8 L170.4 367.9" fill="none" stroke="#f6c84c" stroke-width="5.2" stroke-linejoin="round" stroke-linecap="butt"/>
<path d="M246.7 140.9 L235.1 170.0 L227.3 201.2 L219.5 247.6 L209.9 286.2 L196.4 320.9 L184.8 342.1 L169.4 367.3" fill="none" stroke="#8d7fd0" stroke-width="1.4" stroke-linejoin="round" stroke-dasharray="0.01 3.3" stroke-linecap="round"/>
<path d="M249.0 141.8 L237.4 170.8 L229.7 201.6 L222.0 248.1 L212.3 287.0 L198.7 322.0 L187.0 343.4 L171.5 368.6" fill="none" stroke="#8d7fd0" stroke-width="1.4" stroke-linejoin="round" stroke-dasharray="0.01 3.3" stroke-linecap="round"/>
<path d="M416.3 195.6 L449.3 209.1 L489.9 228.5" fill="none" stroke="#f2ea94" stroke-width="5.4" stroke-linejoin="round" stroke-linecap="butt"/>
<path d="M416.3 195.6 L449.3 209.1 L489.9 228.5" fill="none" stroke="#8d7fd0" stroke-width="1.2" stroke-linejoin="round" stroke-dasharray="0.01 3.3" stroke-linecap="round"/>
<path d="M240.1 141.4 L286.6 153.0 L317.6 160.7 L366.0 174.3 L416.3 195.6" fill="none" stroke="#e0a94a" stroke-width="5.3" stroke-linejoin="round" stroke-linecap="butt"/>
<path d="M240.1 141.4 L286.6 153.0 L317.6 160.7 L366.0 174.3 L416.3 195.6" fill="none" stroke="#f6c84c" stroke-width="4.6" stroke-linejoin="round" stroke-linecap="butt"/>
<path d="M240.1 141.4 L286.6 153.0 L317.6 160.7 L366.0 174.3 L416.3 195.6" fill="none" stroke="#8d7fd0" stroke-width="1.45" stroke-linejoin="round" stroke-dasharray="0.01 3.3" stroke-linecap="round"/>
<path d="M380.3 3.9 L397.8 63.9 L409.4 96.8 L426.8 154.9 L419.1 187.8 L395.8 230.4 L368.7 284.7 L345.5 331.1 L326.1 367.9" fill="none" stroke="#e0a94a" stroke-width="4.7" stroke-linejoin="round" stroke-linecap="butt"/>
<path d="M380.3 3.9 L397.8 63.9 L409.4 96.8 L426.8 154.9 L419.1 187.8 L395.8 230.4 L368.7 284.7 L345.5 331.1 L326.1 367.9" fill="none" stroke="#f6c84c" stroke-width="4.0" stroke-linejoin="round" stroke-linecap="butt"/>
<path d="M380.3 3.9 L397.8 63.9 L409.4 96.8 L426.8 154.9 L419.1 187.8 L395.8 230.4 L368.7 284.7 L345.5 331.1 L326.1 367.9" fill="none" stroke="#8d7fd0" stroke-width="1.45" stroke-linejoin="round" stroke-dasharray="0.01 3.3" stroke-linecap="round"/>
<path d="M0.0 301.3 L19.4 302.9 L48.4 300.9 L73.6 296.7 L93.0 295.1 L123.9 308.7 L154.9 324.2 L185.9 343.5" fill="none" stroke="#e0a94a" stroke-width="6.3" stroke-linejoin="round" stroke-linecap="butt"/>
<path d="M0.0 301.3 L19.4 302.9 L48.4 300.9 L73.6 296.7 L93.0 295.1 L123.9 308.7 L154.9 324.2 L185.9 343.5" fill="none" stroke="#f6c84c" stroke-width="5.6" stroke-linejoin="round" stroke-linecap="butt"/>
<path d="M-0.1 302.6 L19.4 304.1 L48.6 302.2 L73.7 297.9 L92.7 296.3 L123.4 309.8 L154.3 325.2 L185.2 344.6" fill="none" stroke="#8d7fd0" stroke-width="1.4" stroke-linejoin="round" stroke-dasharray="0.01 3.3" stroke-linecap="round"/>
<path d="M0.1 300.1 L19.4 301.6 L48.3 299.7 L73.4 295.4 L93.2 293.9 L124.5 307.6 L155.5 323.1 L186.6 342.5" fill="none" stroke="#8d7fd0" stroke-width="1.4" stroke-linejoin="round" stroke-dasharray="0.01 3.3" stroke-linecap="round"/>
<path d="M79.4 299.0 L58.1 335.0 L44.5 367.9" fill="none" stroke="#e0a94a" stroke-width="5.7" stroke-linejoin="round" stroke-linecap="butt"/>
<path d="M79.4 299.0 L58.1 335.0 L44.5 367.9" fill="none" stroke="#f6c84c" stroke-width="5.0" stroke-linejoin="round" stroke-linecap="butt"/>
<path d="M78.3 298.4 L57.0 334.5 L43.4 367.5" fill="none" stroke="#8d7fd0" stroke-width="1.4" stroke-linejoin="round" stroke-dasharray="0.01 3.3" stroke-linecap="round"/>
<path d="M80.5 299.6 L59.2 335.6 L45.7 368.4" fill="none" stroke="#8d7fd0" stroke-width="1.4" stroke-linejoin="round" stroke-dasharray="0.01 3.3" stroke-linecap="round"/>
<path d="M0.0 294.3 L11.6 306.0 L23.2 302.9" fill="none" stroke="#f6c84c" stroke-width="5" stroke-linejoin="round" stroke-linecap="butt"/>
<path d="M216.9 98.8 L333.1 120.8 L426.0 143.3 L489.9 153.0" fill="none" stroke="#ffffff" stroke-width="1.9" stroke-linejoin="round" stroke-linecap="butt"/>
<path d="M216.9 98.8 L333.1 120.8 L426.0 143.3 L489.9 153.0" fill="none" stroke="#8d7fd0" stroke-width="1.35" stroke-linejoin="round" stroke-dasharray="0.01 3.3" stroke-linecap="round"/>
<path d="M0.0 323.4 L46.5 337.7 L96.8 367.9" fill="none" stroke="#ffffff" stroke-width="1.9" stroke-linejoin="round" stroke-linecap="butt"/>
<path d="M0.0 323.4 L46.5 337.7 L96.8 367.9" fill="none" stroke="#8d7fd0" stroke-width="1.35" stroke-linejoin="round" stroke-dasharray="0.01 3.3" stroke-linecap="round"/>
<path d="M185.9 267.2 L216.9 287.4 L247.9 295.1 L271.1 309.8 L278.9 367.9" fill="none" stroke="#ffffff" stroke-width="1.9" stroke-linejoin="round" stroke-linecap="butt"/>
<path d="M185.9 267.2 L216.9 287.4 L247.9 295.1 L271.1 309.8 L278.9 367.9" fill="none" stroke="#8d7fd0" stroke-width="1.35" stroke-linejoin="round" stroke-dasharray="0.01 3.3" stroke-linecap="round"/>
<path d="M203.3 36.8 L212.2 69.7 L217.7 98.8 L211.1 127.8" fill="none" stroke="#ffffff" stroke-width="1.9" stroke-linejoin="round" stroke-linecap="butt"/>
<path d="M203.3 36.8 L212.2 69.7 L217.7 98.8 L211.1 127.8" fill="none" stroke="#8d7fd0" stroke-width="1.35" stroke-linejoin="round" stroke-dasharray="0.01 3.3" stroke-linecap="round"/>
<path d="M166.5 23.2 L201.4 34.9 L247.9 38.7" fill="none" stroke="#ffffff" stroke-width="1.9" stroke-linejoin="round" stroke-linecap="butt"/>
<path d="M166.5 23.2 L201.4 34.9 L247.9 38.7" fill="none" stroke="#8d7fd0" stroke-width="1.35" stroke-linejoin="round" stroke-dasharray="0.01 3.3" stroke-linecap="round"/>
<path d="M489.9 182.0 L457.0 216.9 L426.0 247.9" fill="none" stroke="#ffffff" stroke-width="1.9" stroke-linejoin="round" stroke-linecap="butt"/>
<path d="M489.9 182.0 L457.0 216.9 L426.0 247.9" fill="none" stroke="#8d7fd0" stroke-width="1.35" stroke-linejoin="round" stroke-dasharray="0.01 3.3" stroke-linecap="round"/>
<path d="M267.2 216.9 L286.6 271.1" fill="none" stroke="#ffffff" stroke-width="1.9" stroke-linejoin="round" stroke-linecap="butt"/>
<path d="M267.2 216.9 L286.6 271.1" fill="none" stroke="#8d7fd0" stroke-width="1.35" stroke-linejoin="round" stroke-dasharray="0.01 3.3" stroke-linecap="round"/>
<path d="M247.9 141.4 L244.8 96.8 L255.6 46.5 L267.2 0.0" fill="none" stroke="#ffffff" stroke-width="1.9" stroke-linejoin="round" stroke-linecap="butt"/>
<path d="M247.9 141.4 L244.8 96.8 L255.6 46.5 L267.2 0.0" fill="none" stroke="#8d7fd0" stroke-width="1.35" stroke-linejoin="round" stroke-dasharray="0.01 3.3" stroke-linecap="round"/>
<path d="M308.7 0.0 L294.3 100.7 L284.7 182.0" fill="none" stroke="#ffffff" stroke-width="1.9" stroke-linejoin="round" stroke-linecap="butt"/>
<path d="M308.7 0.0 L294.3 100.7 L284.7 182.0" fill="none" stroke="#8d7fd0" stroke-width="1.35" stroke-linejoin="round" stroke-dasharray="0.01 3.3" stroke-linecap="round"/>
<path d="M283.5 297.1 L309.1 302.1 L353.6 319.5 L400.1 344.7 L489.9 358.2" fill="none" stroke="#d3dbde" stroke-width="2.6" stroke-linejoin="round" stroke-linecap="butt"/>
<path d="M373.5 171.2 L344.4 231.3 L313.0 287.9 L296.3 317.0 L283.7 338.2 L269.3 352.3 L255.8 369.6" fill="none" stroke="#efe27e" stroke-width="1.6" stroke-linejoin="round" stroke-linecap="butt"/>
<path d="M371.0 170.0 L342.0 230.1 L310.6 286.6 L294.0 315.6 L281.6 336.6 L267.2 350.5 L253.7 367.9" fill="none" stroke="#e39468" stroke-width="4.3" stroke-linejoin="round" stroke-linecap="butt"/>
<path d="M371.0 170.0 L342.0 230.1 L310.6 286.6 L294.0 315.6 L281.6 336.6 L267.2 350.5 L253.7 367.9" fill="none" stroke="#f0a986" stroke-width="3.4" stroke-linejoin="round" stroke-linecap="butt"/>
<path d="M367.2 170.4 L358.6 190.9 L333.8 238.6 L304.4 295.1 L286.6 325.3" fill="none" stroke="#5aa089" stroke-width="0.9" stroke-linejoin="round" stroke-linecap="butt" stroke-dasharray="3 2"/>
<path d="M0.0 58.1 L38.7 58.1 L65.8 46.5 L127.8 17.4 L162.7 19.4 L209.1 23.2 L232.4 34.9 L255.6 54.2 L294.3 67.8 L321.5 73.6 L340.8 89.1 L356.3 112.3 L367.9 135.6 L383.4 151.0 L418.3 158.8 L464.8 156.9 L489.9 153.0" fill="none" stroke="#dc7370" stroke-width="6.5" stroke-linejoin="round" stroke-linecap="butt"/>
<path d="M0.0 58.1 L38.7 58.1 L65.8 46.5 L127.8 17.4 L162.7 19.4 L209.1 23.2 L232.4 34.9 L255.6 54.2 L294.3 67.8 L321.5 73.6 L340.8 89.1 L356.3 112.3 L367.9 135.6 L383.4 151.0 L418.3 158.8 L464.8 156.9 L489.9 153.0" fill="none" stroke="#f0908c" stroke-width="5.6" stroke-linejoin="round" stroke-linecap="butt"/>
<path d="M125.9 0.0 L127.8 17.4" fill="none" stroke="#dc7370" stroke-width="6.5" stroke-linejoin="round" stroke-linecap="butt"/>
<path d="M125.9 0.0 L127.8 17.4" fill="none" stroke="#f0908c" stroke-width="5.6" stroke-linejoin="round" stroke-linecap="butt"/>
<path d="M141.4 0.0 L154.9 13.6 L170.4 21.3" fill="none" stroke="#dc7370" stroke-width="6.4" stroke-linejoin="round" stroke-linecap="butt"/>
<path d="M141.4 0.0 L154.9 13.6 L170.4 21.3" fill="none" stroke="#f0908c" stroke-width="5.5" stroke-linejoin="round" stroke-linecap="butt"/>
<path d="M429.9 0.0 L436.1 29.8 L450.0 65.8 L460.1 103.8 L464.0 139.8 L469.8 151.8 L489.9 158.0" fill="none" stroke="#dc7370" stroke-width="6.9" stroke-linejoin="round" stroke-linecap="butt"/>
<path d="M429.9 0.0 L436.1 29.8 L450.0 65.8 L460.1 103.8 L464.0 139.8 L469.8 151.8 L489.9 158.0" fill="none" stroke="#f0908c" stroke-width="6" stroke-linejoin="round" stroke-linecap="butt"/>
<path d="M487.2 154.9 L488.0 182.0" fill="none" stroke="#dc7370" stroke-width="6.9" stroke-linejoin="round" stroke-linecap="butt"/>
<path d="M487.2 154.9 L488.0 182.0" fill="none" stroke="#f0908c" stroke-width="6" stroke-linejoin="round" stroke-linecap="butt"/>
<path d="M488.8 176.2 L457.0 236.3 L429.9 294.3 L410.5 336.9 L400.9 367.9" fill="none" stroke="#dc7370" stroke-width="6.9" stroke-linejoin="round" stroke-linecap="butt"/>
<path d="M488.8 176.2 L457.0 236.3 L429.9 294.3 L410.5 336.9 L400.9 367.9" fill="none" stroke="#f0908c" stroke-width="6" stroke-linejoin="round" stroke-linecap="butt"/>
<path d="M232.4 367.9 L244.8 345.5 L264.1 339.3 L287.4 336.9 L322.2 340.8 L353.2 352.4 L380.3 367.9" fill="none" stroke="#dc7370" stroke-width="6.9" stroke-linejoin="round" stroke-linecap="butt"/>
<path d="M232.4 367.9 L244.8 345.5 L264.1 339.3 L287.4 336.9 L322.2 340.8 L353.2 352.4 L380.3 367.9" fill="none" stroke="#f0908c" stroke-width="6" stroke-linejoin="round" stroke-linecap="butt"/>
<path d="M0.0 288.5 L8.5 306.0 L15.5 325.3 L12.4 348.6 L4.6 367.9" fill="none" stroke="#dc7370" stroke-width="5.9" stroke-linejoin="round" stroke-linecap="butt"/>
<path d="M0.0 288.5 L8.5 306.0 L15.5 325.3 L12.4 348.6 L4.6 367.9" fill="none" stroke="#f0908c" stroke-width="5" stroke-linejoin="round" stroke-linecap="butt"/>
<path d="M371.8 -0.4 L358.2 30.6 L342.8 73.2 L327.3 115.8 L316.4 162.3 L307.9 193.3 L304.0 232.0 L296.3 266.8 L276.9 305.6 L253.7 340.4 L231.2 367.5" fill="none" stroke="#d6d8dc" stroke-width="4.6" stroke-linejoin="round" stroke-linecap="butt"/>
<path d="M371.8 -0.4 L358.2 30.6 L342.8 73.2 L327.3 115.8 L316.4 162.3 L307.9 193.3 L304.0 232.0 L296.3 266.8 L276.9 305.6 L253.7 340.4 L231.2 367.5" fill="none" stroke="#54545e" stroke-width="3.2" stroke-linejoin="round" stroke-linecap="butt" stroke-dasharray="9 8"/>
<path d="M371.8 -0.4 L358.2 30.6 L342.8 73.2 L327.3 115.8 L316.4 162.3 L307.9 193.3 L304.0 232.0 L296.3 266.8 L276.9 305.6 L253.7 340.4 L231.2 367.5" fill="none" stroke="#ffffff" stroke-width="2.0" stroke-linejoin="round" stroke-linecap="butt" stroke-dasharray="7 10" stroke-dashoffset="-9.5"/>
<path d="M375.7 0.4 L362.1 31.4 L346.6 74.0 L331.1 116.6 L320.3 163.1 L311.8 194.0 L307.9 232.8 L300.2 267.6 L280.8 306.4 L257.6 341.2 L235.1 368.3" fill="none" stroke="#1f8078" stroke-width="3.6" stroke-linejoin="round" stroke-linecap="butt"/>
<path d="M375.7 0.4 L362.1 31.4 L346.6 74.0 L331.1 116.6 L320.3 163.1 L311.8 194.0 L307.9 232.8 L300.2 267.6 L280.8 306.4 L257.6 341.2 L235.1 368.3" fill="none" stroke="#e8f4f0" stroke-width="0.8" stroke-linejoin="round" stroke-linecap="butt" stroke-dasharray="8 5"/>
<path d="M331.1 73.6 L391.2 54.2 L457.0 34.9 L489.9 23.2" fill="none" stroke="#5aa089" stroke-width="1.1" stroke-linejoin="round" stroke-linecap="butt" stroke-dasharray="3 2"/>
<path d="M345.9 96.0 L416.0 68.2" fill="none" stroke="#c9cf8e" stroke-width="2" stroke-linejoin="round" stroke-linecap="butt"/>
<path d="M402.8 73.6 L445.4 54.2 L489.9 34.1" fill="none" stroke="#efb95a" stroke-width="2.6" stroke-linejoin="round" stroke-linecap="butt"/>
<path d="M296.3 200.2 L311.0 202.6 L312.9 189.0 L326.5 189.0 L327.7 205.7 L332.7 189.0 L341.2 192.1 L332.7 235.9 L314.1 269.2 L294.3 260.7 L281.6 245.2 L288.1 221.1 Z" fill="#c9545c"/>
<path d="M295.1 199.1 L309.8 201.4 L311.8 187.8 L325.3 187.8 L326.5 204.5 L331.5 187.8 L340.0 190.9 L331.5 234.7 L312.9 268.0 L293.2 259.5 L280.4 244.0 L287.0 220.0 Z" fill="#ee747a"/>
<circle cx="149.1" cy="34.1" r="4.3" fill="#fff" stroke="#3b3a8c" stroke-width="1.1"/><rect x="147.2" y="31.8" width="3.8" height="3.6" rx=".8" fill="none" stroke="#3b3a8c" stroke-width=".9"/><path d="M147.5 36.7H150.7" stroke="#3b3a8c" stroke-width=".8"/>
<circle cx="278.1" cy="114.3" r="4.3" fill="#fff" stroke="#3b3a8c" stroke-width="1.1"/><rect x="276.20000000000005" y="112.0" width="3.8" height="3.6" rx=".8" fill="none" stroke="#3b3a8c" stroke-width=".9"/><path d="M276.5 116.89999999999999H279.70000000000005" stroke="#3b3a8c" stroke-width=".8"/>
<circle cx="270.3" cy="202.6" r="4.3" fill="#fff" stroke="#3b3a8c" stroke-width="1.1"/><rect x="268.40000000000003" y="200.29999999999998" width="3.8" height="3.6" rx=".8" fill="none" stroke="#3b3a8c" stroke-width=".9"/><path d="M268.7 205.2H271.90000000000003" stroke="#3b3a8c" stroke-width=".8"/>
<circle cx="213.8" cy="249.8" r="4.3" fill="#fff" stroke="#3b3a8c" stroke-width="1.1"/><rect x="211.9" y="247.5" width="3.8" height="3.6" rx=".8" fill="none" stroke="#3b3a8c" stroke-width=".9"/><path d="M212.20000000000002 252.4H215.4" stroke="#3b3a8c" stroke-width=".8"/>
<circle cx="409.4" cy="207.2" r="4.3" fill="#fff" stroke="#3b3a8c" stroke-width="1.1"/><rect x="407.5" y="204.89999999999998" width="3.8" height="3.6" rx=".8" fill="none" stroke="#3b3a8c" stroke-width=".9"/><path d="M407.79999999999995 209.79999999999998H411.0" stroke="#3b3a8c" stroke-width=".8"/>
<circle cx="416.3" cy="66.6" r="4.3" fill="#fff" stroke="#3b3a8c" stroke-width="1.1"/><rect x="414.40000000000003" y="64.3" width="3.8" height="3.6" rx=".8" fill="none" stroke="#3b3a8c" stroke-width=".9"/><path d="M414.7 69.19999999999999H417.90000000000003" stroke="#3b3a8c" stroke-width=".8"/>
<circle cx="411.3" cy="102.2" r="4.3" fill="#fff" stroke="#3b3a8c" stroke-width="1.1"/><rect x="409.40000000000003" y="99.9" width="3.8" height="3.6" rx=".8" fill="none" stroke="#3b3a8c" stroke-width=".9"/><path d="M409.7 104.8H412.90000000000003" stroke="#3b3a8c" stroke-width=".8"/>
<circle cx="55.0" cy="300.2" r="4.3" fill="#fff" stroke="#3b3a8c" stroke-width="1.1"/><rect x="53.1" y="297.9" width="3.8" height="3.6" rx=".8" fill="none" stroke="#3b3a8c" stroke-width=".9"/><path d="M53.4 302.8H56.6" stroke="#3b3a8c" stroke-width=".8"/>
<circle cx="216.1" cy="324.6" r="4.3" fill="#fff" stroke="#3b3a8c" stroke-width="1.1"/><rect x="214.2" y="322.3" width="3.8" height="3.6" rx=".8" fill="none" stroke="#3b3a8c" stroke-width=".9"/><path d="M214.5 327.20000000000005H217.7" stroke="#3b3a8c" stroke-width=".8"/>
<circle cx="348.6" cy="327.3" r="4.3" fill="#fff" stroke="#3b3a8c" stroke-width="1.1"/><rect x="346.70000000000005" y="325.0" width="3.8" height="3.6" rx=".8" fill="none" stroke="#3b3a8c" stroke-width=".9"/><path d="M347.0 329.90000000000003H350.20000000000005" stroke="#3b3a8c" stroke-width=".8"/>
<circle cx="385.4" cy="342.0" r="4.3" fill="#fff" stroke="#3b3a8c" stroke-width="1.1"/><rect x="383.5" y="339.7" width="3.8" height="3.6" rx=".8" fill="none" stroke="#3b3a8c" stroke-width=".9"/><path d="M383.79999999999995 344.6H387.0" stroke="#3b3a8c" stroke-width=".8"/>
<circle cx="486.1" cy="32.9" r="4.3" fill="#fff" stroke="#3b3a8c" stroke-width="1.1"/><rect x="484.20000000000005" y="30.599999999999998" width="3.8" height="3.6" rx=".8" fill="none" stroke="#3b3a8c" stroke-width=".9"/><path d="M484.5 35.5H487.70000000000005" stroke="#3b3a8c" stroke-width=".8"/>
<circle cx="474.4" cy="335.0" r="4.3" fill="#fff" stroke="#3b3a8c" stroke-width="1.1"/><rect x="472.5" y="332.7" width="3.8" height="3.6" rx=".8" fill="none" stroke="#3b3a8c" stroke-width=".9"/><path d="M472.79999999999995 337.6H476.0" stroke="#3b3a8c" stroke-width=".8"/>
<circle cx="300.2" cy="356.3" r="4.3" fill="#fff" stroke="#3b3a8c" stroke-width="1.1"/><rect x="298.3" y="354.0" width="3.8" height="3.6" rx=".8" fill="none" stroke="#3b3a8c" stroke-width=".9"/><path d="M298.59999999999997 358.90000000000003H301.8" stroke="#3b3a8c" stroke-width=".8"/>
<circle cx="168.5" cy="364.8" r="4.3" fill="#fff" stroke="#3b3a8c" stroke-width="1.1"/><rect x="166.6" y="362.5" width="3.8" height="3.6" rx=".8" fill="none" stroke="#3b3a8c" stroke-width=".9"/><path d="M166.9 367.40000000000003H170.1" stroke="#3b3a8c" stroke-width=".8"/>
<circle cx="213.0" cy="156.1" r="3.2" fill="#5c3a8c"/><text x="213.0" y="157.7" font-size="4.4" fill="#fff" text-anchor="middle" font-weight="bold">H</text>
<circle cx="364.1" cy="55.0" r="3.2" fill="#5c3a8c"/><text x="364.1" y="56.6" font-size="4.4" fill="#fff" text-anchor="middle" font-weight="bold">H</text>
<path d="M234.0 68.5H239.6V71.5Q239.6 73.5 236.8 73.5Q234.0 73.5 234.0 71.5Z" fill="#333"/><path d="M239.6 69.30000000000001Q242.0 69.7 239.6 71.9" fill="none" stroke="#333" stroke-width=".9"/>
<path d="M228.2 93.3H233.79999999999998V96.3Q233.79999999999998 98.3 231.0 98.3Q228.2 98.3 228.2 96.3Z" fill="#333"/><path d="M233.79999999999998 94.10000000000001Q236.2 94.5 233.79999999999998 96.7" fill="none" stroke="#333" stroke-width=".9"/>
<text x="209.5" y="314.5" font-size="10" font-weight="bold" fill="#d9a21b" text-anchor="middle" font-family="Liberation Serif,serif">M</text>
<rect x="317.6" y="0" width="9" height="7" fill="#3a8a57"/><rect x="317.6" y="3" width="9" height="1.5" fill="#fff"/><rect x="317.6" y="5.4" width="9" height="1.6" fill="#3b7fd0"/>
<circle cx="482.2" cy="3" r="4.6" fill="#fff" stroke="#3a8a57" stroke-width=".8"/><text x="482.2" y="6" font-size="7" font-weight="bold" fill="#e0452c" text-anchor="middle">7</text>
<rect x="473.3" y="115.0" width="10.5" height="10" rx="2.2" fill="#e0352c"/><rect x="474.8" y="117.7" width="7.4" height="2.2" fill="#fff"/><rect x="474.8" y="121.2" width="7.4" height="1.2" fill="#fff"/>
<circle cx="100.7" cy="79.4" r="1.1" fill="#666"/>
<circle cx="187.8" cy="108.4" r="1.1" fill="#666"/>
<circle cx="187.8" cy="108.4" r="2.8" fill="#fff" stroke="#888" stroke-width=".6"/><circle cx="187.8" cy="108.4" r="1.2" fill="#444"/>
<path d="M132.8 133.6V127.8L136.3 125.5L139.8 127.8V133.6" fill="none" stroke="#c0503c" stroke-width=".9"/>
<g fill="#a2452e"><circle cx="80.6" cy="137.8" r="1.1"/><circle cx="78.8" cy="140.6" r="1.1"/><circle cx="82.39999999999999" cy="140.6" r="1.1"/></g>
<g fill="#a2452e"><circle cx="87.1" cy="201.3" r="1.1"/><circle cx="85.3" cy="204.1" r="1.1"/><circle cx="88.89999999999999" cy="204.1" r="1.1"/></g>
<g fill="#a2452e"><circle cx="10.5" cy="116.5" r="1.1"/><circle cx="8.7" cy="119.3" r="1.1"/><circle cx="12.3" cy="119.3" r="1.1"/></g>
<g fill="#a2452e"><circle cx="29.8" cy="207.5" r="1.1"/><circle cx="28.0" cy="210.29999999999998" r="1.1"/><circle cx="31.6" cy="210.29999999999998" r="1.1"/></g>
<g fill="#a2452e"><circle cx="87.9" cy="241.20000000000002" r="1.1"/><circle cx="86.10000000000001" cy="244.0" r="1.1"/><circle cx="89.7" cy="244.0" r="1.1"/></g>
<g fill="#a2452e"><circle cx="83.3" cy="209.5" r="1.1"/><circle cx="81.5" cy="212.29999999999998" r="1.1"/><circle cx="85.1" cy="212.29999999999998" r="1.1"/></g>
<text x="366.8" y="26.3" font-size="13.4" fill="#222" font-weight="normal" text-anchor="middle" stroke="#fff" stroke-width="1.6" paint-order="stroke" stroke-linejoin="round" textLength="39" lengthAdjust="spacing">神田駅</text>
<text x="304.0" y="244.0" font-size="13" fill="#1a1a1a" font-weight="normal" text-anchor="middle" stroke="#1a1a1a" stroke-width=".35" textLength="39" lengthAdjust="spacing">東京駅</text>
<text x="244.8" y="360.2" font-size="12.6" fill="#222" font-weight="normal" text-anchor="middle" stroke="#fff" stroke-width="1.6" paint-order="stroke" stroke-linejoin="round" textLength="52" lengthAdjust="spacing">有楽町駅</text>
<text x="-1.5" y="360.2" font-size="1" fill="#2f3577" font-weight="normal" text-anchor="middle" stroke="#fff" stroke-width="1.6" paint-order="stroke" stroke-linejoin="round"></text>
<text x="150.3" y="50.3" font-size="8.4" fill="#2f3577" font-weight="normal" text-anchor="middle" stroke="#fff" stroke-width="1.6" paint-order="stroke" stroke-linejoin="round" textLength="24" lengthAdjust="spacing">竹橋駅</text>
<text x="417.5" y="83.3" font-size="8.4" fill="#2f3577" font-weight="normal" text-anchor="middle" stroke="#fff" stroke-width="1.6" paint-order="stroke" stroke-linejoin="round" textLength="40" lengthAdjust="spacing">新日本橋駅</text>
<text x="411.7" y="118.5" font-size="8.4" fill="#2f3577" font-weight="normal" text-anchor="middle" stroke="#fff" stroke-width="1.6" paint-order="stroke" stroke-linejoin="round" textLength="32" lengthAdjust="spacing">三越前駅</text>
<text x="278.1" y="129.7" font-size="8.4" fill="#2f3577" font-weight="normal" text-anchor="middle" stroke="#fff" stroke-width="1.6" paint-order="stroke" stroke-linejoin="round" textLength="32" lengthAdjust="spacing">大手町駅</text>
<text x="271.1" y="220.0" font-size="8.4" fill="#2f3577" font-weight="normal" text-anchor="middle" stroke="#fff" stroke-width="1.6" paint-order="stroke" stroke-linejoin="round" textLength="24" lengthAdjust="spacing">東京駅</text>
<text x="214.2" y="266.5" font-size="8.4" fill="#2f3577" font-weight="normal" text-anchor="middle" stroke="#fff" stroke-width="1.6" paint-order="stroke" stroke-linejoin="round" textLength="40" lengthAdjust="spacing">二重橋前駅</text>
<text x="409.8" y="222.7" font-size="8.4" fill="#2f3577" font-weight="normal" text-anchor="middle" stroke="#fff" stroke-width="1.6" paint-order="stroke" stroke-linejoin="round" textLength="32" lengthAdjust="spacing">日本橋駅</text>
<text x="55.0" y="316.0" font-size="8.4" fill="#2f3577" font-weight="normal" text-anchor="middle" stroke="#fff" stroke-width="1.6" paint-order="stroke" stroke-linejoin="round" textLength="32" lengthAdjust="spacing">桜田門駅</text>
<text x="216.9" y="342.0" font-size="8.4" fill="#2f3577" font-weight="normal" text-anchor="middle" stroke="#fff" stroke-width="1.6" paint-order="stroke" stroke-linejoin="round" textLength="32" lengthAdjust="spacing">有楽町駅</text>
<text x="348.6" y="343.1" font-size="8.4" fill="#2f3577" font-weight="normal" text-anchor="middle" stroke="#fff" stroke-width="1.6" paint-order="stroke" stroke-linejoin="round" textLength="24" lengthAdjust="spacing">京橋駅</text>
<text x="386.5" y="358.6" font-size="8.4" fill="#2f3577" font-weight="normal" text-anchor="middle" stroke="#fff" stroke-width="1.6" paint-order="stroke" stroke-linejoin="round" textLength="24" lengthAdjust="spacing">宝町駅</text>
<text x="489.9" y="47.3" font-size="8.4" fill="#2f3577" font-weight="normal" text-anchor="end" stroke="#fff" stroke-width="1.6" paint-order="stroke" stroke-linejoin="round" textLength="24" lengthAdjust="spacing">小伝馬</text>
<text x="491.1" y="251.0" font-size="8.4" fill="#2f3577" font-weight="normal" text-anchor="end" stroke="#fff" stroke-width="1.6" paint-order="stroke" stroke-linejoin="round" textLength="16" lengthAdjust="spacing">茅場</text>
<text x="364.1" y="45.3" font-size="8" fill="#333" font-weight="normal" text-anchor="middle" stroke="#fff" stroke-width="1.6" paint-order="stroke" stroke-linejoin="round" textLength="88" lengthAdjust="spacing">神田ステーションホテル</text>
<text x="213.0" y="169.6" font-size="8" fill="#333" font-weight="normal" text-anchor="middle" stroke="#fff" stroke-width="1.6" paint-order="stroke" stroke-linejoin="round" textLength="64" lengthAdjust="spacing">パレスホテル東京</text>
<text x="135.6" y="333.8" font-size="9.6" fill="#333" font-weight="normal" text-anchor="middle" stroke="#fff" stroke-width="1.6" paint-order="stroke" stroke-linejoin="round" textLength="50" lengthAdjust="spacing">公安調査庁</text>
<circle cx="106.5" cy="330.4" r="1.5" fill="none" stroke="#444" stroke-width=".7"/><path d="M106.5 328.8V326.5" stroke="#444" stroke-width=".7"/>
<text x="441.5" y="304.4" font-size="8" fill="#666" font-weight="normal" text-anchor="middle" stroke="#fff" stroke-width="1.6" paint-order="stroke" stroke-linejoin="round" textLength="44.9" lengthAdjust="spacing">京橋OMビル</text>
<rect x="418.3" y="299.4" width="1.8" height="1.8" fill="#666"/>
<text x="188.6" y="125.1" font-size="8.4" fill="#fff" text-anchor="middle" stroke="#7d8a8a" stroke-width="1.5" paint-order="stroke" stroke-linejoin="round" textLength="40" lengthAdjust="spacing">宮内庁病院</text>
<text x="100.7" y="90.2" font-size="7.6" fill="#fff" text-anchor="middle" stroke="#7d8a8a" stroke-width="1.5" paint-order="stroke" stroke-linejoin="round" textLength="24" lengthAdjust="spacing">天守台</text>
<text x="81.3" y="24.0" font-size="7.6" fill="#fff" text-anchor="middle" stroke="#7d8a8a" stroke-width="1.5" paint-order="stroke" stroke-linejoin="round" textLength="40" lengthAdjust="spacing">科学技術館</text>
<text x="165.8" y="234.7" font-size="8.8" fill="#fff" text-anchor="middle" stroke="#7d8a8a" stroke-width="1.5" paint-order="stroke" stroke-linejoin="round" textLength="36" lengthAdjust="spacing">内堀通り</text>
<text x="136.3" y="192.1" font-size="9" fill="#fff" text-anchor="middle" stroke="#8aa5d8" stroke-width="1.5" paint-order="stroke" stroke-linejoin="round" textLength="18" lengthAdjust="spacing">蛤濠</text>
<text x="5.4" y="92.2" font-size="9.4" fill="#fff" text-anchor="middle" stroke="#7f9a7a" stroke-width="1.5" paint-order="stroke" stroke-linejoin="round" textLength="18" lengthAdjust="spacing">代田</text>
<text x="359.4" y="306.7" font-size="8.8" fill="#fff" text-anchor="middle" stroke="#7d8aa0" stroke-width="1.5" paint-order="stroke" stroke-linejoin="round" textLength="36" lengthAdjust="spacing">中央通り</text>
<rect x="66.7" y="123.2" width="27.9" height="10.8" rx="5" fill="#f4d31e" stroke="#c4a20c" stroke-width=".9"/><text x="80.6" y="131.7" font-size="8.6" font-weight="bold" fill="#2a2200" text-anchor="middle" textLength="18" lengthAdjust="spacing">皇居</text>
<rect x="109.6" y="138.3" width="54.2" height="21.7" rx="5" fill="#f4d31e" stroke="#c4a20c" stroke-width=".9"/><text x="136.7" y="148.0" font-size="8.6" font-weight="bold" fill="#2a2200" text-anchor="middle" textLength="36" lengthAdjust="spacing">江戸城跡</text><text x="136.7" y="156.4" font-size="8.6" font-weight="bold" fill="#2a2200" text-anchor="middle" textLength="45" lengthAdjust="spacing">皇居東御苑</text>
<rect x="69.3" y="187.1" width="35.6" height="10.8" rx="5" fill="#f4d31e" stroke="#c4a20c" stroke-width=".9"/><text x="87.1" y="195.6" font-size="8.6" font-weight="bold" fill="#2a2200" text-anchor="middle" textLength="27" lengthAdjust="spacing">新宮殿</text>
<rect x="7.3" y="216.1" width="44.9" height="10.8" rx="5" fill="#f4d31e" stroke="#c4a20c" stroke-width=".9"/><text x="29.8" y="224.6" font-size="8.6" font-weight="bold" fill="#2a2200" text-anchor="middle" textLength="36" lengthAdjust="spacing">宮中三殿</text>
<rect x="70.1" y="250.2" width="35.6" height="10.8" rx="5" fill="#f4d31e" stroke="#c4a20c" stroke-width=".9"/><text x="87.9" y="258.7" font-size="8.6" font-weight="bold" fill="#2a2200" text-anchor="middle" textLength="27" lengthAdjust="spacing">二重橋</text>
<rect x="-11.7" y="125.5" width="32.5" height="10.8" rx="5" fill="#f4d31e" stroke="#c4a20c" stroke-width=".9"/><text x="4.6" y="134.0" font-size="8.6" font-weight="bold" fill="#2a2200" text-anchor="middle" textLength="27" lengthAdjust="spacing">桜上御</text>
<rect x="247.9" y="29.1" width="28.7" height="10.1" fill="#fff" stroke="#3f6db5" stroke-width=".9"/><text x="262.2" y="37.2" font-size="8.6" fill="#2b5aa8" text-anchor="middle" textLength="27" lengthAdjust="spacing">神田橋</text>
<rect x="258.2" y="41.9" width="8" height="3" rx="1.5" fill="#4f7fc6"/><g fill="#fff"><circle cx="260.0" cy="43.4" r=".8"/><circle cx="262.2" cy="43.4" r=".8"/><circle cx="264.4" cy="43.4" r=".8"/></g>
<rect x="215.4" y="128.6" width="27.9" height="10.1" fill="#fff" stroke="#3f6db5" stroke-width=".9"/><text x="229.3" y="136.7" font-size="8.6" fill="#2b5aa8" text-anchor="middle" textLength="27" lengthAdjust="spacing">大手門</text>
<rect x="206.3" y="130.2" width="8" height="3" rx="1.5" fill="#4f7fc6"/><g fill="#fff"><circle cx="208.10000000000002" cy="131.7" r=".8"/><circle cx="210.3" cy="131.7" r=".8"/><circle cx="212.5" cy="131.7" r=".8"/></g>
<rect x="261.0" y="157.3" width="45.7" height="10.8" fill="#fff" stroke="#3f6db5" stroke-width=".9"/><text x="283.9" y="165.8" font-size="8.6" fill="#2b5aa8" text-anchor="middle" textLength="45" lengthAdjust="spacing">大手町駅前</text>
<rect x="280.7" y="152.3" width="8" height="3" rx="1.5" fill="#4f7fc6"/><g fill="#fff"><circle cx="282.5" cy="153.8" r=".8"/><circle cx="284.7" cy="153.8" r=".8"/><circle cx="286.9" cy="153.8" r=".8"/></g>
<rect x="320.3" y="156.5" width="37.2" height="10.8" fill="#fff" stroke="#3f6db5" stroke-width=".9"/><text x="338.9" y="165.0" font-size="8.6" fill="#2b5aa8" text-anchor="middle" textLength="36" lengthAdjust="spacing">丸の内一</text>
<rect x="310.5" y="160.4" width="8" height="3" rx="1.5" fill="#4f7fc6"/><g fill="#fff"><circle cx="312.3" cy="161.9" r=".8"/><circle cx="314.5" cy="161.9" r=".8"/><circle cx="316.7" cy="161.9" r=".8"/></g>
<rect x="373.0" y="171.2" width="28.7" height="10.1" fill="#fff" stroke="#3f6db5" stroke-width=".9"/><text x="387.3" y="179.3" font-size="8.6" fill="#2b5aa8" text-anchor="middle" textLength="27" lengthAdjust="spacing">呉服橋</text>
<rect x="363.2" y="174.7" width="8" height="3" rx="1.5" fill="#4f7fc6"/><g fill="#fff"><circle cx="365.0" cy="176.2" r=".8"/><circle cx="367.2" cy="176.2" r=".8"/><circle cx="369.4" cy="176.2" r=".8"/></g>
<rect x="419.5" y="191.7" width="28.7" height="10.1" fill="#fff" stroke="#3f6db5" stroke-width=".9"/><text x="433.8" y="199.8" font-size="8.6" fill="#2b5aa8" text-anchor="middle" textLength="27" lengthAdjust="spacing">日本橋</text>
<rect x="409.6" y="195.2" width="8" height="3" rx="1.5" fill="#4f7fc6"/><g fill="#fff"><circle cx="411.40000000000003" cy="196.7" r=".8"/><circle cx="413.6" cy="196.7" r=".8"/><circle cx="415.8" cy="196.7" r=".8"/></g>
<rect x="73.5" y="277.7" width="27.1" height="10.1" fill="#fff" stroke="#3f6db5" stroke-width=".9"/><text x="87.1" y="285.8" font-size="8.6" fill="#2b5aa8" text-anchor="middle" textLength="27" lengthAdjust="spacing">桜田門</text>
<rect x="83.1" y="290.9" width="8" height="3" rx="1.5" fill="#4f7fc6"/><g fill="#fff"><circle cx="84.89999999999999" cy="292.4" r=".8"/><circle cx="87.1" cy="292.4" r=".8"/><circle cx="89.3" cy="292.4" r=".8"/></g>
<rect x="482.1" y="316.1" width="8" height="3" rx="1.5" fill="#4f7fc6"/><g fill="#fff"><circle cx="483.90000000000003" cy="317.6" r=".8"/><circle cx="486.1" cy="317.6" r=".8"/><circle cx="488.3" cy="317.6" r=".8"/></g>
<rect x="47.2" y="37.2" width="25.6" height="9.3" rx="1" fill="#d2493b" stroke="#b5382c" stroke-width=".6"/><text x="60.0" y="44.6" font-size="7.8" font-weight="bold" fill="#fff" text-anchor="middle" textLength="24" lengthAdjust="spacing">代官町</text>
<rect x="53.4" y="49.9" width="13.2" height="8.5" rx="1" fill="#fff" stroke="#c5402f" stroke-width=".9"/><text x="60.0" y="56.7" font-size="7" font-weight="bold" fill="#c5402f" text-anchor="middle" textLength="14" lengthAdjust="spacing">出入</text>
<rect x="125.5" y="12.4" width="12.4" height="7.7" rx="1" fill="#fff" stroke="#c5402f" stroke-width=".9"/><text x="131.7" y="18.7" font-size="6.6" font-weight="bold" fill="#c5402f" text-anchor="middle">Jct</text>
<rect x="123.6" y="24.4" width="16.3" height="9.3" rx="1" fill="#d2493b" stroke="#b5382c" stroke-width=".6"/><text x="131.7" y="31.8" font-size="7.8" font-weight="bold" fill="#fff" text-anchor="middle" textLength="16" lengthAdjust="spacing">竹橋</text>
<rect x="165.7" y="22.0" width="13.2" height="8.5" rx="1" fill="#fff" stroke="#c5402f" stroke-width=".9"/><text x="172.3" y="28.8" font-size="7" font-weight="bold" fill="#c5402f" text-anchor="middle" textLength="14" lengthAdjust="spacing">出入</text>
<rect x="180.1" y="22.5" width="24.8" height="9.3" rx="1" fill="#d2493b" stroke="#b5382c" stroke-width=".6"/><text x="192.5" y="29.9" font-size="7.8" font-weight="bold" fill="#fff" text-anchor="middle" textLength="24" lengthAdjust="spacing">一ツ橋</text>
<rect x="252.1" y="58.4" width="13.2" height="8.5" rx="1" fill="#fff" stroke="#c5402f" stroke-width=".9"/><text x="258.7" y="65.2" font-size="7" font-weight="bold" fill="#c5402f" text-anchor="middle" textLength="14" lengthAdjust="spacing">出入</text>
<rect x="312.9" y="65.1" width="24.8" height="9.3" rx="1" fill="#d2493b" stroke="#b5382c" stroke-width=".6"/><text x="325.3" y="72.5" font-size="7.8" font-weight="bold" fill="#fff" text-anchor="middle" textLength="24" lengthAdjust="spacing">神田橋</text>
<rect x="319.1" y="77.0" width="12.4" height="8.5" rx="1" fill="#fff" stroke="#c5402f" stroke-width=".9"/><text x="325.3" y="83.7" font-size="6.6" font-weight="bold" fill="#c5402f" text-anchor="middle">Jct</text>
<rect x="456.2" y="100.3" width="13.2" height="8.5" rx="1" fill="#fff" stroke="#c5402f" stroke-width=".9"/><text x="462.8" y="107.1" font-size="7" font-weight="bold" fill="#c5402f" text-anchor="middle" textLength="14" lengthAdjust="spacing">出入</text>
<rect x="471.3" y="101.1" width="17.8" height="9.3" rx="1" fill="#d2493b" stroke="#b5382c" stroke-width=".6"/><text x="480.2" y="108.5" font-size="7.8" font-weight="bold" fill="#fff" text-anchor="middle" textLength="16" lengthAdjust="spacing">本町</text>
<rect x="369.1" y="255.2" width="13.2" height="8.5" rx="1" fill="#fff" stroke="#c5402f" stroke-width=".9"/><text x="375.7" y="262.0" font-size="7" font-weight="bold" fill="#c5402f" text-anchor="middle" textLength="14" lengthAdjust="spacing">出入</text>
<rect x="384.2" y="254.9" width="25.6" height="9.3" rx="1" fill="#d2493b" stroke="#b5382c" stroke-width=".6"/><text x="397.0" y="262.3" font-size="7.8" font-weight="bold" fill="#fff" text-anchor="middle" textLength="24" lengthAdjust="spacing">八重洲</text>
<rect x="281.2" y="328.8" width="12.4" height="8.5" rx="1" fill="#fff" stroke="#c5402f" stroke-width=".9"/><text x="287.4" y="335.5" font-size="6.6" font-weight="bold" fill="#c5402f" text-anchor="middle">Jct</text>
<rect x="297.0" y="328.5" width="25.6" height="9.3" rx="1" fill="#d2493b" stroke="#b5382c" stroke-width=".6"/><text x="309.8" y="335.9" font-size="7.8" font-weight="bold" fill="#fff" text-anchor="middle" textLength="24" lengthAdjust="spacing">西銀座</text>
<rect x="483.0" y="171.2" width="11.6" height="10.1" rx="1" fill="#d2493b" stroke="#b5382c" stroke-width=".6"/><text x="488.8" y="179.0" font-size="7.8" font-weight="bold" fill="#fff" text-anchor="middle">江</text>
<rect x="242.5" y="96.3" width="17.0" height="10.4" rx="4.8" fill="#4a7fc0" stroke="#fff" stroke-width=".8"/><text x="251.0" y="104.6" font-size="8.6" font-weight="bold" fill="#fff" text-anchor="middle">403</text>
<rect x="129.8" y="277.5" width="17.0" height="10.4" rx="4.8" fill="#4a7fc0" stroke="#fff" stroke-width=".8"/><text x="138.3" y="285.8" font-size="8.6" font-weight="bold" fill="#fff" text-anchor="middle">301</text>
<rect x="390.4" y="303.5" width="17.0" height="10.4" rx="4.8" fill="#4a7fc0" stroke="#fff" stroke-width=".8"/><text x="398.9" y="311.8" font-size="8.6" font-weight="bold" fill="#fff" text-anchor="middle">316</text>
<rect x="384.0" y="232.7" width="14.3" height="12.6" rx="5.9" fill="#4a7fc0" stroke="#fff" stroke-width=".8"/><text x="391.2" y="242.8" font-size="10.6" font-weight="bold" fill="#fff" text-anchor="middle">15</text>
<rect x="-0.7" y="281.5" width="15.5" height="12.6" rx="5.9" fill="#4a7fc0" stroke="#fff" stroke-width=".8"/><text x="7.0" y="291.6" font-size="10.6" font-weight="bold" fill="#fff" text-anchor="middle">20</text>
<path d="M198.7 280.6H209.5Q210.1 287.6 204.1 294.0Q198.1 287.6 198.7 280.6Z" fill="#3f74b8" stroke="#fff" stroke-width=".8"/><text x="204.1" y="289.8" font-size="9.4" font-weight="bold" fill="#fff" text-anchor="middle">1</text>
<g>
<circle cx="26.3" cy="26.5" r="18.8" fill="#e6f0d8" fill-opacity=".82" stroke="#c8d0c0" stroke-width=".8"/>
<circle cx="26.3" cy="26.5" r="8.6" fill="#f3f7ec" stroke="#b9c0b4" stroke-width=".7"/>
<g fill="#555"><path d="M26.3 19.8l2.2 2.6h-4.4z"/><path d="M26.3 33.2l2.2-2.6h-4.4z"/><path d="M19.6 26.5l2.6-2.2v4.4z"/><path d="M33 26.5l-2.6-2.2v4.4z"/><path d="M26.3 10l2.4 2.8h-4.8z"/><path d="M26.3 43l2.4-2.8h-4.8z"/><path d="M9.8 26.5l2.8-2.4v4.8z"/><path d="M42.8 26.5l-2.8-2.4v4.8z"/><circle cx="26.3" cy="26.5" r="1.2"/></g>
<rect x="21.4" y="54.6" width="10" height="10" fill="#f4f4f4" stroke="#999" stroke-width=".8"/><path d="M23.6 59.6h5.6M26.4 56.8v5.6" stroke="#333" stroke-width="1.4"/>
<rect x="23.4" y="67.5" width="6" height="3.4" fill="#fff" stroke="#555" stroke-width=".7"/>
<rect x="23.4" y="72.5" width="6" height="3.4" fill="#fff" stroke="#555" stroke-width=".7"/>
<rect x="23.4" y="77.6" width="6" height="3.4" fill="#fff" stroke="#555" stroke-width=".7"/>
<rect x="23.4" y="82.7" width="6" height="3.4" fill="#fff" stroke="#555" stroke-width=".7"/>
<rect x="23.4" y="87.7" width="6" height="3.4" fill="#fff" stroke="#555" stroke-width=".7"/>
<rect x="23.4" y="92.8" width="6" height="3.4" fill="#fff" stroke="#555" stroke-width=".7"/>
<rect x="23.4" y="97.8" width="6" height="3.4" fill="#fff" stroke="#555" stroke-width=".7"/>
<rect x="23.4" y="102.8" width="6" height="3.4" fill="#fff" stroke="#555" stroke-width=".7"/>
<rect x="23.4" y="107.9" width="6" height="3.4" fill="#fff" stroke="#555" stroke-width=".7"/>
<rect x="23.4" y="112.9" width="6" height="3.4" fill="#fff" stroke="#555" stroke-width=".7"/>
<rect x="23.4" y="118.0" width="6" height="3.4" fill="#fff" stroke="#555" stroke-width=".7"/>
<rect x="23.4" y="123.0" width="6" height="3.4" fill="#fff" stroke="#555" stroke-width=".7"/>
<rect x="20.8" y="78.4" width="11.4" height="6.4" fill="#fff" stroke="#555" stroke-width=".8"/><path d="M23.6 81.6h5.8" stroke="#333" stroke-width="1.2"/>
<rect x="21.4" y="126.6" width="10" height="11" fill="#fbf6d0" stroke="#999" stroke-width=".8"/><path d="M23.6 132h5.6" stroke="#333" stroke-width="1.4"/>
<rect x="21.6" y="141.6" width="9.6" height="5.6" fill="#f4f4f4" stroke="#888" stroke-width=".7"/><path d="M26.4 142.8l2.4 3h-4.8z" fill="#444"/>
</g>
<text x="9.8" y="357.2" font-size="5.6" font-weight="bold" fill="#222" text-anchor="middle">N</text><path d="M7.2 361h5.2l-2.6-3z" fill="#222"/>
<path d="M18 356.6V359.4H90.7" fill="none" stroke="#222" stroke-width=".9"/>
<text x="93.6" y="360.6" font-size="6" fill="#444">400m</text>
<text x="489" y="353.6" font-size="6.9" fill="#333" text-anchor="end" stroke="#fff" stroke-width="1" paint-order="stroke">©2022 ZENRIN DataCom</text>
<text x="489" y="360.8" font-size="6.4" fill="#333" text-anchor="end" stroke="#fff" stroke-width="1" paint-order="stroke" textLength="74.5" lengthAdjust="spacing">地図データ©2022 ZENRIN</text>
</svg></div>
</div>

<div class="abs" style="right:14px;top:935px;font-size:9.1px;color:#3b4a78;white-space:nowrap;line-height:12px">© 2016 Tokio Marine &amp; Nichido Fire Insurance Co., Ltd.(v3.2.1)</div>
<div class="abs" style="left:1271px;top:941px;width:0;height:0;border-left:3px solid transparent;border-right:3px solid transparent;border-top:3.5px solid #7c8597"></div>


</body></html>
